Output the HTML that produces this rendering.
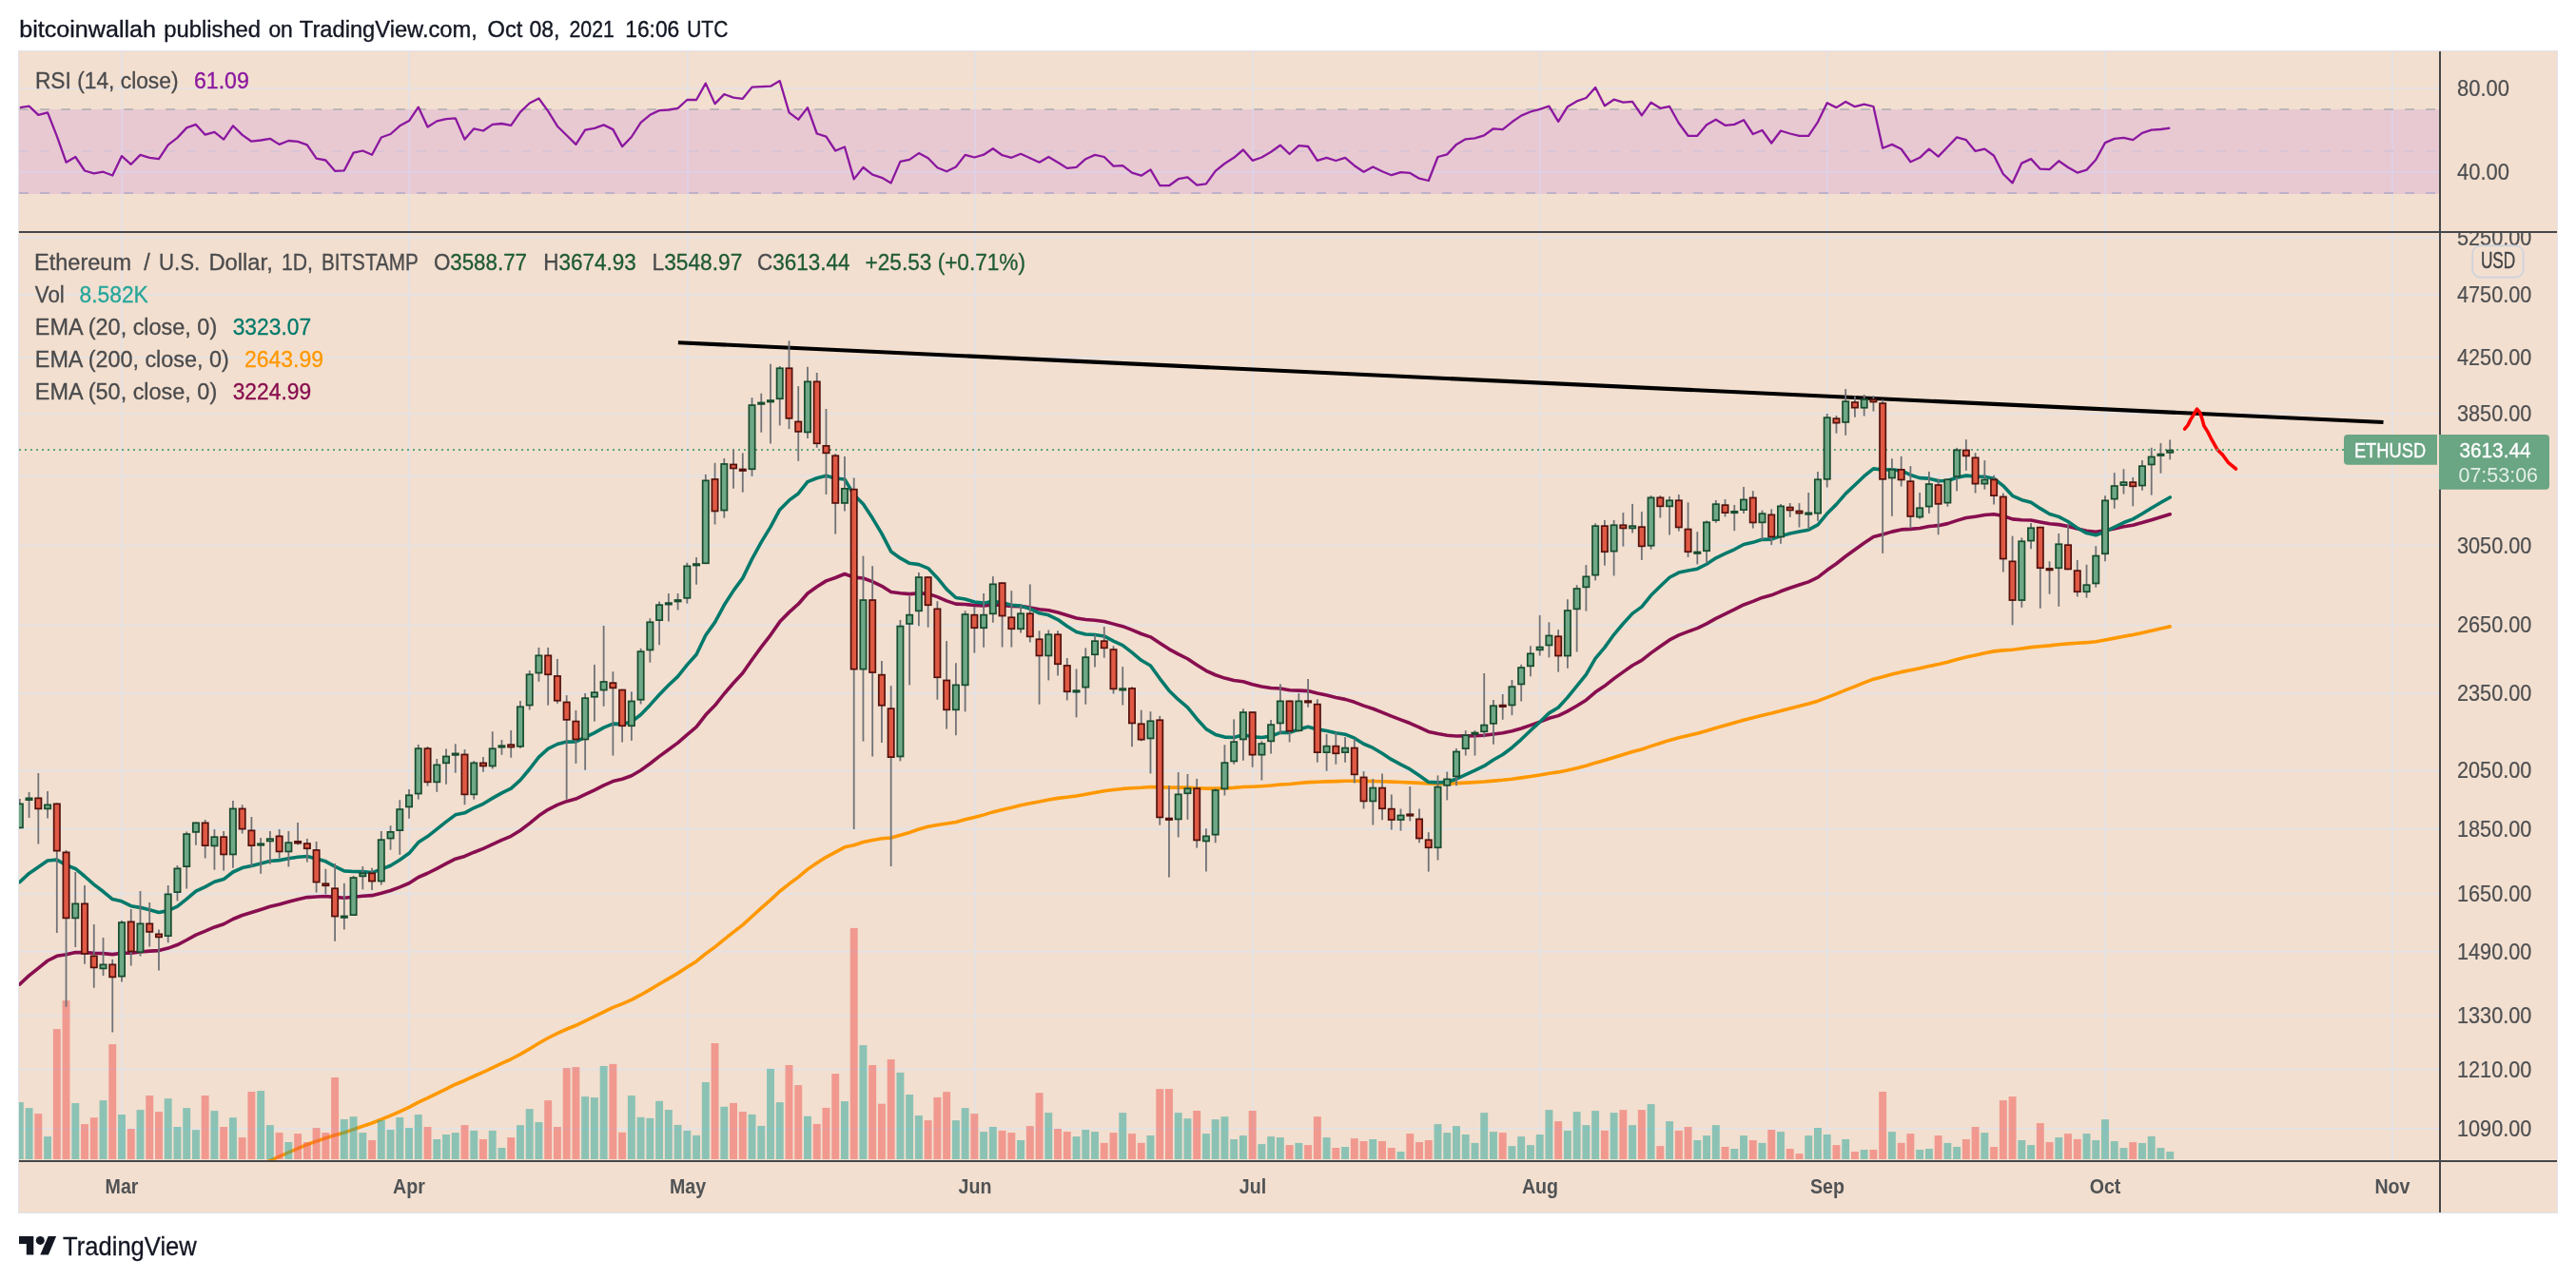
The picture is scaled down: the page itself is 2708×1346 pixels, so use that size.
<!DOCTYPE html>
<html><head><meta charset="utf-8"><title>ETHUSD chart</title>
<style>html,body{margin:0;padding:0;background:#fff;}body{width:2708px;height:1346px;overflow:hidden;font-family:"Liberation Sans",sans-serif;}svg{display:block;will-change:transform;}</style>
</head><body>
<svg width="2708" height="1346" viewBox="0 0 2708 1346" font-family="Liberation Sans, sans-serif">
<rect width="2708" height="1346" fill="#ffffff"/>
<text x="20.2" y="38.6" font-size="23.5" fill="#131722" stroke="#131722" stroke-width="0.35" textLength="143.8" lengthAdjust="spacingAndGlyphs">bitcoinwallah</text>
<text x="172.2" y="38.6" font-size="23.5" fill="#131722" stroke="#131722" stroke-width="0.35" textLength="101.9" lengthAdjust="spacingAndGlyphs">published</text>
<text x="282.4" y="38.6" font-size="23.5" fill="#131722" stroke="#131722" stroke-width="0.35" textLength="25.4" lengthAdjust="spacingAndGlyphs">on</text>
<text x="314.8" y="38.6" font-size="23.5" fill="#131722" stroke="#131722" stroke-width="0.35" textLength="187.1" lengthAdjust="spacingAndGlyphs">TradingView.com,</text>
<text x="512.6" y="38.6" font-size="23.5" fill="#131722" stroke="#131722" stroke-width="0.35" textLength="36.8" lengthAdjust="spacingAndGlyphs">Oct</text>
<text x="556.6" y="38.6" font-size="23.5" fill="#131722" stroke="#131722" stroke-width="0.35" textLength="31.9" lengthAdjust="spacingAndGlyphs">08,</text>
<text x="598.5" y="38.6" font-size="23.5" fill="#131722" stroke="#131722" stroke-width="0.35" textLength="47.3" lengthAdjust="spacingAndGlyphs">2021</text>
<text x="657.2" y="38.6" font-size="23.5" fill="#131722" stroke="#131722" stroke-width="0.35" textLength="57.1" lengthAdjust="spacingAndGlyphs">16:06</text>
<text x="722.2" y="38.6" font-size="23.5" fill="#131722" stroke="#131722" stroke-width="0.35" textLength="43.1" lengthAdjust="spacingAndGlyphs">UTC</text>
<rect x="19.5" y="53.5" width="2669.0" height="1222.0" fill="#f2dfcf" stroke="#e0e3eb" stroke-width="1"/>
<rect x="20" y="54" width="2668" height="1221" fill="#f2dfcf"/>
<defs>
<clipPath id="cp"><rect x="20" y="245" width="2544" height="975"/></clipPath>
<clipPath id="cr"><rect x="20" y="54" width="2544" height="189"/></clipPath>
<clipPath id="cband"><rect x="20" y="115" width="2544" height="89"/></clipPath>
</defs>
<g clip-path="url(#cr)">
<line x1="20" y1="93" x2="2564" y2="93" stroke="#e3e2e6" stroke-width="1.7"/>
<line x1="20" y1="181" x2="2564" y2="181" stroke="#e3e2e6" stroke-width="1.7"/>
<line x1="128" y1="54" x2="128" y2="244" stroke="#e3e2e6" stroke-width="1.7"/>
<line x1="430" y1="54" x2="430" y2="244" stroke="#e3e2e6" stroke-width="1.7"/>
<line x1="723" y1="54" x2="723" y2="244" stroke="#e3e2e6" stroke-width="1.7"/>
<line x1="1025" y1="54" x2="1025" y2="244" stroke="#e3e2e6" stroke-width="1.7"/>
<line x1="1317" y1="54" x2="1317" y2="244" stroke="#e3e2e6" stroke-width="1.7"/>
<line x1="1619" y1="54" x2="1619" y2="244" stroke="#e3e2e6" stroke-width="1.7"/>
<line x1="1921" y1="54" x2="1921" y2="244" stroke="#e3e2e6" stroke-width="1.7"/>
<line x1="2213" y1="54" x2="2213" y2="244" stroke="#e3e2e6" stroke-width="1.7"/>
<line x1="2515" y1="54" x2="2515" y2="244" stroke="#e3e2e6" stroke-width="1.7"/>
<rect x="20" y="115" width="2544" height="89" fill="#e8c9d2"/>
<g clip-path="url(#cband)">
<line x1="20" y1="93" x2="2564" y2="93" stroke="#ddd1e8" stroke-width="1.7"/>
<line x1="20" y1="181" x2="2564" y2="181" stroke="#ddd1e8" stroke-width="1.7"/>
<line x1="128" y1="54" x2="128" y2="244" stroke="#ddd1e8" stroke-width="1.7"/>
<line x1="430" y1="54" x2="430" y2="244" stroke="#ddd1e8" stroke-width="1.7"/>
<line x1="723" y1="54" x2="723" y2="244" stroke="#ddd1e8" stroke-width="1.7"/>
<line x1="1025" y1="54" x2="1025" y2="244" stroke="#ddd1e8" stroke-width="1.7"/>
<line x1="1317" y1="54" x2="1317" y2="244" stroke="#ddd1e8" stroke-width="1.7"/>
<line x1="1619" y1="54" x2="1619" y2="244" stroke="#ddd1e8" stroke-width="1.7"/>
<line x1="1921" y1="54" x2="1921" y2="244" stroke="#ddd1e8" stroke-width="1.7"/>
<line x1="2213" y1="54" x2="2213" y2="244" stroke="#ddd1e8" stroke-width="1.7"/>
<line x1="2515" y1="54" x2="2515" y2="244" stroke="#ddd1e8" stroke-width="1.7"/>
</g>
<line x1="20" y1="115" x2="2564" y2="115" stroke="#adadb1" stroke-width="1.7" stroke-dasharray="9.8 12.2" stroke-dashoffset="-0.2"/>
<line x1="20" y1="159" x2="2564" y2="159" stroke="#d3c2d6" stroke-width="1.7" stroke-dasharray="9.8 12.2" stroke-dashoffset="-0.2"/>
<line x1="20" y1="203" x2="2564" y2="203" stroke="#b1a8c8" stroke-width="1.7" stroke-dasharray="9.8 12.2" stroke-dashoffset="-0.2"/>
<polyline points="20.83,113.1 30.57,111.7 40.31,120.8 50.06,118.3 59.8,143.1 69.54,170.7 79.28,165 89.03,179.5 98.77,182.4 108.51,180.7 118.26,184.5 128,164.1 137.74,172.8 147.49,162.9 157.23,165.8 166.97,167.2 176.72,152.4 186.46,144.9 196.2,134.4 205.94,130.9 215.69,141.7 225.43,138.8 235.17,146.6 244.92,132.3 254.66,141.9 264.4,148.7 274.14,147.5 283.89,145.8 293.63,151.9 303.37,148 313.12,148.9 322.86,152.4 332.6,166.7 342.35,168.5 352.09,179.8 361.83,179.3 371.58,160.6 381.32,158.5 391.06,162.7 400.8,144.5 410.55,141 420.29,132.3 430.03,127.1 439.78,112.6 449.52,133.5 459.26,127.4 469,125.1 478.75,124.3 488.49,146.6 498.23,135.3 507.98,137.5 517.72,130.9 527.46,130 537.21,131.8 546.95,117.8 556.69,108.5 566.43,103.5 576.18,116.9 585.92,132.7 595.66,142.3 605.41,151.9 615.15,136.7 624.89,134.9 634.64,131.4 644.38,136.1 654.12,154.1 663.87,144 673.61,128.8 683.35,120.8 693.09,116.1 702.84,115.5 712.58,113.8 722.32,105 732.07,105 741.81,87.6 751.55,109.1 761.3,99.1 771.04,102.6 780.78,103.8 790.52,91.6 800.27,91.2 810.01,90.7 819.75,85.1 829.5,118.3 839.24,125.7 848.98,113.1 858.73,140.5 868.47,143.7 878.21,158.5 887.95,154.5 897.7,188.4 907.44,176 917.18,183.7 926.93,186.8 936.67,192.4 946.41,169.9 956.15,167.9 965.9,161.1 975.64,166.2 985.38,176.3 995.13,180.3 1004.87,175.5 1014.61,162.9 1024.36,165.5 1034.1,162.7 1043.84,156.2 1053.59,163.2 1063.33,165.8 1073.07,161.8 1082.81,166.2 1092.56,170.7 1102.3,165 1112.04,170.7 1121.79,176.9 1131.53,175.8 1141.27,167.2 1151.01,162.9 1160.76,165 1170.5,174.6 1180.24,174.2 1189.99,181.6 1199.73,184.7 1209.47,178.4 1219.22,195 1228.96,195.2 1238.7,188.2 1248.44,186.3 1258.19,194.7 1267.93,193.3 1277.67,179.8 1287.42,172 1297.16,165.8 1306.9,157.5 1316.65,168.8 1326.39,165.5 1336.13,159.7 1345.88,152.7 1355.62,162 1365.36,153.1 1375.1,154 1384.85,168.8 1394.59,165.8 1404.33,169 1414.08,165.8 1423.82,174.2 1433.56,180.7 1443.31,175.5 1453.05,180.3 1462.79,184.2 1472.53,181.2 1482.28,181.9 1492.02,187.7 1501.76,190 1511.51,165 1521.25,162.4 1530.99,151.9 1540.74,146.3 1550.48,145.4 1560.22,142.3 1569.96,135.3 1579.71,136.1 1589.45,128.3 1599.19,121.6 1608.94,117.5 1618.68,114.8 1628.42,111.7 1638.16,127.9 1647.91,112.2 1657.65,106.4 1667.39,103 1677.14,91.9 1686.88,111.2 1696.62,104.7 1706.37,107.7 1716.11,106.8 1725.85,121.3 1735.6,107.7 1745.34,113.8 1755.08,112 1764.82,129.5 1774.57,142.8 1784.31,142.8 1794.05,131.3 1803.8,125.7 1813.54,131.8 1823.28,130.9 1833.03,126.2 1842.77,141 1852.51,137 1862.25,150.5 1872,137.5 1881.74,140.5 1891.48,142.8 1901.23,142.8 1910.97,128.3 1920.71,108.2 1930.46,113.1 1940.2,107 1949.94,112.2 1959.68,109.6 1969.43,112 1979.17,155.7 1988.91,151.9 1998.66,156.8 2008.4,170.2 2018.14,165.8 2027.88,156.6 2037.63,164.6 2047.37,154.5 2057.11,144.4 2066.86,147.2 2076.6,158.9 2086.34,156.6 2096.09,163.7 2105.83,183 2115.57,192.4 2125.32,171.6 2135.06,167.1 2144.8,177.7 2154.54,178.1 2164.29,169.3 2174.03,176 2183.77,181.6 2193.52,178.6 2203.26,168 2213,150.1 2222.74,145.9 2232.49,144.8 2242.23,147.2 2251.97,139.9 2261.72,136.7 2271.46,136 2281.2,134.6" fill="none" stroke="#8b179f" stroke-width="2.3" stroke-linejoin="round"/>
</g>
<text x="36.9" y="92.6" font-size="23.5" fill="#4a4a4c" stroke="#4a4a4c" stroke-width="0.3" textLength="150.6" lengthAdjust="spacingAndGlyphs">RSI (14, close)</text>
<text x="203.9" y="92.6" font-size="23.5" fill="#8b179f" stroke="#8b179f" stroke-width="0.3" textLength="58" lengthAdjust="spacingAndGlyphs">61.09</text>
<g clip-path="url(#cp)">
<line x1="20" y1="250.19" x2="2564" y2="250.19" stroke="#e3e2e6" stroke-width="1.7"/>
<line x1="20" y1="309.82" x2="2564" y2="309.82" stroke="#e3e2e6" stroke-width="1.7"/>
<line x1="20" y1="376.09" x2="2564" y2="376.09" stroke="#e3e2e6" stroke-width="1.7"/>
<line x1="20" y1="434.98" x2="2564" y2="434.98" stroke="#e3e2e6" stroke-width="1.7"/>
<line x1="20" y1="500.34" x2="2564" y2="500.34" stroke="#e3e2e6" stroke-width="1.7"/>
<line x1="20" y1="573.76" x2="2564" y2="573.76" stroke="#e3e2e6" stroke-width="1.7"/>
<line x1="20" y1="657.52" x2="2564" y2="657.52" stroke="#e3e2e6" stroke-width="1.7"/>
<line x1="20" y1="729.1" x2="2564" y2="729.1" stroke="#e3e2e6" stroke-width="1.7"/>
<line x1="20" y1="810.47" x2="2564" y2="810.47" stroke="#e3e2e6" stroke-width="1.7"/>
<line x1="20" y1="871.63" x2="2564" y2="871.63" stroke="#e3e2e6" stroke-width="1.7"/>
<line x1="20" y1="939.8" x2="2564" y2="939.8" stroke="#e3e2e6" stroke-width="1.7"/>
<line x1="20" y1="1000.57" x2="2564" y2="1000.57" stroke="#e3e2e6" stroke-width="1.7"/>
<line x1="20" y1="1068.25" x2="2564" y2="1068.25" stroke="#e3e2e6" stroke-width="1.7"/>
<line x1="20" y1="1124.59" x2="2564" y2="1124.59" stroke="#e3e2e6" stroke-width="1.7"/>
<line x1="20" y1="1186.81" x2="2564" y2="1186.81" stroke="#e3e2e6" stroke-width="1.7"/>
<line x1="128" y1="244" x2="128" y2="1221" stroke="#e3e2e6" stroke-width="1.7"/>
<line x1="430" y1="244" x2="430" y2="1221" stroke="#e3e2e6" stroke-width="1.7"/>
<line x1="723" y1="244" x2="723" y2="1221" stroke="#e3e2e6" stroke-width="1.7"/>
<line x1="1025" y1="244" x2="1025" y2="1221" stroke="#e3e2e6" stroke-width="1.7"/>
<line x1="1317" y1="244" x2="1317" y2="1221" stroke="#e3e2e6" stroke-width="1.7"/>
<line x1="1619" y1="244" x2="1619" y2="1221" stroke="#e3e2e6" stroke-width="1.7"/>
<line x1="1921" y1="244" x2="1921" y2="1221" stroke="#e3e2e6" stroke-width="1.7"/>
<line x1="2213" y1="244" x2="2213" y2="1221" stroke="#e3e2e6" stroke-width="1.7"/>
<line x1="2515" y1="244" x2="2515" y2="1221" stroke="#e3e2e6" stroke-width="1.7"/>
<polyline points="20.83,1352.64 30.57,1344.67 40.31,1337.18 50.06,1329.73 59.8,1323.49 69.54,1318.72 79.28,1313.74 89.03,1309.78 98.77,1306.12 108.51,1302.45 118.26,1299.06 128,1294.77 137.74,1291.08 147.49,1286.95 157.23,1283.05 166.97,1279.31 176.72,1274.85 186.46,1269.99 196.2,1264.55 205.94,1258.99 215.69,1254 225.43,1248.92 235.17,1244.29 244.92,1238.83 254.66,1233.89 264.4,1229.36 274.14,1224.85 283.89,1220.32 293.63,1216.13 303.37,1211.82 313.12,1207.62 322.86,1203.56 332.6,1200.07 342.35,1196.69 352.09,1193.84 361.83,1191.01 371.58,1187.61 381.32,1184.19 391.06,1180.98 400.8,1177.1 410.55,1173.15 420.29,1168.87 430.03,1164.41 439.78,1159.15 449.52,1154.65 459.26,1149.87 469,1145.03 478.75,1140.21 488.49,1136.24 498.23,1131.75 507.98,1127.41 517.72,1122.8 527.46,1118.23 537.21,1113.78 546.95,1108.62 556.69,1102.93 566.43,1096.95 576.18,1091.51 585.92,1086.67 595.66,1082.26 605.41,1078.26 615.15,1073.57 624.89,1068.86 634.64,1064.03 644.38,1059.42 654.12,1055.56 663.87,1051.31 673.61,1046.22 683.35,1040.64 693.09,1034.82 702.84,1029.08 712.58,1023.38 722.32,1017.09 732.07,1010.9 741.81,1002.93 751.55,995.89 761.3,987.87 771.04,980.16 780.78,972.67 790.52,963.72 800.27,954.94 810.01,946.39 819.75,937.21 829.5,929.55 839.24,922.37 848.98,914.12 858.73,907.53 868.47,901.29 878.21,896.18 887.95,890.85 897.7,888.68 907.44,885.47 917.18,883.41 926.93,881.83 936.67,880.93 946.41,878.24 956.15,875.42 965.9,872.04 975.64,869.18 985.38,867.41 995.13,866.08 1004.87,864.43 1014.61,861.8 1024.36,859.43 1034.1,856.88 1043.84,853.9 1053.59,851.46 1063.33,849.25 1073.07,846.82 1082.81,844.78 1092.56,843.02 1102.3,840.98 1112.04,839.39 1121.79,838.17 1131.53,836.94 1141.27,835.29 1151.01,833.44 1160.76,831.73 1170.5,830.57 1180.24,829.42 1189.99,828.7 1199.73,828.18 1209.47,827.43 1219.22,827.75 1228.96,828.08 1238.7,828.15 1248.44,828.15 1258.19,828.68 1267.93,829.16 1277.67,829.17 1287.42,828.88 1297.16,828.37 1306.9,827.52 1316.65,827.18 1326.39,826.7 1336.13,826.01 1345.88,825.05 1355.62,824.48 1365.36,823.53 1375.1,822.63 1384.85,822.32 1394.59,821.92 1404.33,821.63 1414.08,821.26 1423.82,821.2 1433.56,821.42 1443.31,821.48 1453.05,821.77 1462.79,822.16 1472.53,822.49 1482.28,822.84 1492.02,823.41 1501.76,824.05 1511.51,824.08 1521.25,824.02 1530.99,823.67 1540.74,823.14 1550.48,822.59 1560.22,821.95 1569.96,821.09 1579.71,820.26 1589.45,819.19 1599.19,817.89 1608.94,816.43 1618.68,814.91 1628.42,813.25 1638.16,811.89 1647.91,809.93 1657.65,807.68 1667.39,805.29 1677.14,802.16 1686.88,799.5 1696.62,796.45 1706.37,793.51 1716.11,790.56 1725.85,787.99 1735.6,784.67 1745.34,781.56 1755.08,778.39 1764.82,775.7 1774.57,773.42 1784.31,771.15 1794.05,768.47 1803.8,765.55 1813.54,762.83 1823.28,760.1 1833.03,757.24 1842.77,754.78 1852.51,752.2 1862.25,750.02 1872,747.4 1881.74,744.9 1891.48,742.48 1901.23,740.07 1910.97,737.19 1920.71,733.34 1930.46,729.67 1940.2,725.66 1949.94,721.86 1959.68,717.95 1969.43,714.17 1979.17,711.68 1988.91,709.05 1998.66,706.64 2008.4,704.78 2018.14,702.81 2027.88,700.52 2037.63,698.57 2047.37,696.28 2057.11,693.58 2066.86,691.03 2076.6,688.92 2086.34,686.76 2096.09,684.88 2105.83,683.84 2115.57,683.3 2125.32,682.04 2135.06,680.62 2144.8,679.74 2154.54,678.89 2164.29,677.72 2174.03,676.88 2183.77,676.32 2193.52,675.67 2203.26,674.68 2213,673 2222.74,671.14 2232.49,669.25 2242.23,667.47 2251.97,665.41 2261.72,663.24 2271.46,661.07 2281.2,658.87" fill="none" stroke="#ff9800" stroke-width="3.6" stroke-linejoin="round" stroke-linecap="round"/>
<polyline points="20.83,1035 30.57,1025.94 40.31,1018.03 50.06,1010.24 59.8,1005.29 69.54,1003.71 79.28,1001.49 89.03,1001.58 98.77,1002.23 108.51,1002.66 118.26,1003.65 128,1002.26 137.74,1002.22 147.49,1000.94 157.23,1000.14 166.97,999.59 176.72,997.11 186.46,993.56 196.2,988.5 205.94,983.12 215.69,979.18 225.43,974.93 235.17,971.77 244.92,966.48 254.66,962.5 264.4,959.48 274.14,956.45 283.89,953.32 293.63,950.98 303.37,948.26 313.12,945.76 322.86,943.6 332.6,943 342.35,942.57 352.09,943.41 361.83,944.17 371.58,943.29 381.32,942.26 391.06,941.67 400.8,939.22 410.55,936.53 420.29,932.89 430.03,928.75 439.78,922.48 449.52,918.26 459.26,913.31 469,908.18 478.75,903.17 488.49,900.4 498.23,896.2 507.98,892.4 517.72,887.87 527.46,883.41 537.21,879.3 546.95,873.29 556.69,865.89 566.43,857.84 576.18,851.3 585.92,846.41 595.66,842.67 605.41,840.01 615.15,835.44 624.89,830.81 634.64,825.87 644.38,821.54 654.12,819.18 663.87,815.72 673.61,809.98 683.35,803 693.09,795.45 702.84,788.22 712.58,781.16 722.32,772.63 732.07,764.47 741.81,751.82 751.55,741.83 761.3,729.5 771.04,718.24 780.78,707.72 790.52,693.71 800.27,680.44 810.01,667.79 819.75,653.85 829.5,643.88 839.24,635.21 848.98,624.04 858.73,617.04 868.47,610.89 878.21,607.49 887.95,603.49 897.7,607.14 907.44,608.03 917.18,611.65 926.93,616.28 936.67,622.42 946.41,623.77 956.15,624.61 965.9,623.88 975.64,624.39 985.38,627.64 995.13,631.9 1004.87,635.1 1014.61,635.5 1024.36,636.48 1034.1,636.84 1043.84,635.91 1053.59,636.39 1063.33,637.38 1073.07,637.65 1082.81,638.9 1092.56,640.83 1102.3,641.81 1112.04,643.96 1121.79,647.05 1131.53,649.94 1141.27,651.47 1151.01,652.32 1160.76,653.46 1170.5,656.12 1180.24,658.65 1189.99,662.36 1199.73,666.51 1209.47,669.83 1219.22,676.25 1228.96,682.55 1238.7,687.84 1248.44,692.76 1258.19,699.22 1267.93,705.32 1277.67,709.76 1287.42,713.1 1297.16,715.56 1306.9,716.8 1316.65,719.67 1326.39,721.97 1336.13,723.46 1345.88,723.97 1355.62,725.69 1365.36,726.11 1375.1,726.62 1384.85,729.05 1394.59,731.1 1404.33,733.42 1414.08,735.38 1423.82,738.32 1433.56,742.11 1443.31,745.24 1453.05,749.06 1462.79,753.14 1472.53,756.87 1482.28,760.54 1492.02,764.88 1501.76,769.39 1511.51,771.54 1521.25,773.31 1530.99,773.94 1540.74,773.88 1550.48,773.73 1560.22,773.26 1569.96,771.97 1579.71,770.81 1589.45,768.79 1599.19,765.99 1608.94,762.67 1618.68,759.19 1628.42,755.32 1638.16,752.63 1647.91,747.85 1657.65,742.19 1667.39,736.2 1677.14,727.81 1686.88,721.32 1696.62,713.66 1706.37,706.64 1716.11,699.77 1725.85,694.36 1735.6,686.6 1745.34,679.78 1755.08,672.91 1764.82,667.83 1774.57,664.18 1784.31,660.67 1794.05,655.84 1803.8,650.34 1813.54,645.6 1823.28,640.95 1833.03,635.94 1842.77,632.34 1852.51,628.4 1862.25,625.8 1872,621.8 1881.74,618.25 1891.48,615 1901.23,611.85 1910.97,607.2 1920.71,599.59 1930.46,592.74 1940.2,585 1949.94,578.07 1959.68,570.97 1969.43,564.44 1979.17,561.98 1988.91,559.12 1998.66,556.92 2008.4,556.4 2018.14,555.48 2027.88,553.55 2037.63,552.64 2047.37,550.63 2057.11,547.36 2066.86,544.58 2076.6,543.17 2086.34,541.56 2096.09,540.78 2105.83,542.58 2115.57,545.84 2125.32,546.71 2135.06,547.01 2144.8,548.94 2154.54,550.83 2164.29,551.63 2174.03,553.42 2183.77,556.01 2193.52,558.19 2203.26,559.17 2213,557.81 2222.74,555.87 2232.49,553.85 2242.23,552.16 2251.97,549.57 2261.72,546.66 2271.46,543.77 2281.2,540.82" fill="none" stroke="#880e4f" stroke-width="3.6" stroke-linejoin="round" stroke-linecap="round"/>
<polyline points="20.83,927.5 30.57,918.43 40.31,911.69 50.06,905.06 59.8,904.15 69.54,909.79 79.28,913.46 89.03,921.49 98.77,930.06 108.51,937.52 118.26,945.59 128,947.8 137.74,952.69 147.49,954.37 157.23,956.83 166.97,959.57 176.72,957.63 186.46,953.18 196.2,945.41 205.94,937.21 215.69,932.55 225.43,927.27 235.17,924.55 244.92,916.99 254.66,912.61 264.4,910.42 274.14,908.11 283.89,905.5 293.63,904.62 303.37,902.75 313.12,901.28 322.86,900.5 332.6,903.1 342.35,905.8 352.09,911.14 361.83,915.89 371.58,916.49 381.32,916.58 391.06,917.61 400.8,914.15 410.55,910.21 420.29,904.23 430.03,897.32 439.78,885.81 449.52,879.55 459.26,871.88 469,864.07 478.75,856.82 488.49,854.82 498.23,849.53 507.98,845.28 517.72,839.41 527.46,833.86 537.21,829.17 546.95,820.34 556.69,808.73 566.43,796.17 576.18,787.42 585.92,782.49 595.66,780.08 605.41,779.91 615.15,775.31 624.89,770.57 634.64,765.16 644.38,761.14 654.12,761.42 663.87,759.01 673.61,751.48 683.35,741.41 693.09,730.45 702.84,720.55 712.58,711.33 722.32,699.16 732.07,688.21 741.81,668.06 751.55,654.41 761.3,636.29 771.04,621.1 780.78,607.89 790.52,587.87 800.27,570.07 810.01,554.09 819.75,535.92 829.5,526.17 839.24,518.98 848.98,506.63 858.73,502.75 868.47,500.27 878.21,503.02 887.95,503.96 897.7,520.4 907.44,530.03 917.18,544.86 926.93,561.1 936.67,579.95 946.41,586.93 956.15,592.3 965.9,593.61 975.64,597.61 985.38,607.7 995.13,619.66 1004.87,628.48 1014.61,630.05 1024.36,632.94 1034.1,634.15 1043.84,632.16 1053.59,633.68 1063.33,636.33 1073.07,637.1 1082.81,640.17 1092.56,644.77 1102.3,646.79 1112.04,651.58 1121.79,658.46 1131.53,664.55 1141.27,666.95 1151.01,667.55 1160.76,668.93 1170.5,674.07 1180.24,678.67 1189.99,686.07 1199.73,694.28 1209.47,700.01 1219.22,713.55 1228.96,726.22 1238.7,735.72 1248.44,743.95 1258.19,755.98 1267.93,766.62 1277.67,772.39 1287.42,775.08 1297.16,775.48 1306.9,772.83 1316.65,774.86 1326.39,775.46 1336.13,774.1 1345.88,770.41 1355.62,770.33 1365.36,767.02 1375.1,764.31 1384.85,766.9 1394.59,768.49 1404.33,770.79 1414.08,772.19 1423.82,776.16 1433.56,782.23 1443.31,786.42 1453.05,792.28 1462.79,798.66 1472.53,803.94 1482.28,808.92 1492.02,815.54 1501.76,822.42 1511.51,822.83 1521.25,822.41 1530.99,819.21 1540.74,814.59 1550.48,810.21 1560.22,805.41 1569.96,799.01 1579.71,793.45 1589.45,786.19 1599.19,777.56 1608.94,768.26 1618.68,759.23 1628.42,749.87 1638.16,743.95 1647.91,733.36 1657.65,721.38 1667.39,709.32 1677.14,692.45 1686.88,680.91 1696.62,667.29 1706.37,655.78 1716.11,645.11 1725.85,638.09 1735.6,626.06 1745.34,616.57 1755.08,607.26 1764.82,602.11 1774.57,600.08 1784.31,598.18 1794.05,593.26 1803.8,586.86 1813.54,582.24 1823.28,577.79 1833.03,572.51 1842.77,570.36 1852.51,567.33 1862.25,567.14 1872,563.65 1881.74,561.09 1891.48,559.1 1901.23,557.19 1910.97,551.85 1920.71,540.05 1930.46,530.37 1940.2,519.08 1949.94,509.95 1959.68,500.68 1969.43,492.87 1979.17,493.99 1988.91,493.9 1998.66,494.97 2008.4,499.45 2018.14,502.61 2027.88,503.14 2037.63,505.71 2047.37,505.49 2057.11,502.27 2066.86,500.13 2076.6,501.01 2086.34,501.26 2096.09,503.2 2105.83,510.81 2115.57,521.34 2125.32,525.67 2135.06,528.34 2144.8,534.65 2154.54,540.51 2164.29,543.38 2174.03,548.49 2183.77,555.21 2193.52,560.59 2203.26,562.75 2213,559.1 2222.74,554.27 2232.49,549.53 2242.23,545.87 2251.97,540.25 2261.72,534.2 2271.46,528.51 2281.2,522.97" fill="none" stroke="#00796b" stroke-width="3.6" stroke-linejoin="round" stroke-linecap="round"/>
<rect x="16.88" y="1159" width="7.9" height="60" fill="rgba(38,166,154,0.5)"/>
<rect x="26.62" y="1165.1" width="7.9" height="53.9" fill="rgba(38,166,154,0.5)"/>
<rect x="36.36" y="1171.1" width="7.9" height="47.9" fill="rgba(239,83,80,0.5)"/>
<rect x="46.11" y="1195.1" width="7.9" height="23.9" fill="rgba(38,166,154,0.5)"/>
<rect x="55.85" y="1082.1" width="7.9" height="136.9" fill="rgba(239,83,80,0.5)"/>
<rect x="65.59" y="1052.1" width="7.9" height="166.9" fill="rgba(239,83,80,0.5)"/>
<rect x="75.33" y="1160" width="7.9" height="59" fill="rgba(38,166,154,0.5)"/>
<rect x="85.08" y="1182.1" width="7.9" height="36.9" fill="rgba(239,83,80,0.5)"/>
<rect x="94.82" y="1175.2" width="7.9" height="43.8" fill="rgba(239,83,80,0.5)"/>
<rect x="104.56" y="1157.1" width="7.9" height="61.9" fill="rgba(38,166,154,0.5)"/>
<rect x="114.31" y="1098.1" width="7.9" height="120.9" fill="rgba(239,83,80,0.5)"/>
<rect x="124.05" y="1172" width="7.9" height="47" fill="rgba(38,166,154,0.5)"/>
<rect x="133.79" y="1187" width="7.9" height="32" fill="rgba(239,83,80,0.5)"/>
<rect x="143.54" y="1167.1" width="7.9" height="51.9" fill="rgba(38,166,154,0.5)"/>
<rect x="153.28" y="1152" width="7.9" height="67" fill="rgba(239,83,80,0.5)"/>
<rect x="163.02" y="1169" width="7.9" height="50" fill="rgba(239,83,80,0.5)"/>
<rect x="172.77" y="1155.2" width="7.9" height="63.8" fill="rgba(38,166,154,0.5)"/>
<rect x="182.51" y="1185" width="7.9" height="34" fill="rgba(38,166,154,0.5)"/>
<rect x="192.25" y="1165.1" width="7.9" height="53.9" fill="rgba(38,166,154,0.5)"/>
<rect x="201.99" y="1188.2" width="7.9" height="30.8" fill="rgba(38,166,154,0.5)"/>
<rect x="211.74" y="1152" width="7.9" height="67" fill="rgba(239,83,80,0.5)"/>
<rect x="221.48" y="1168.1" width="7.9" height="50.9" fill="rgba(38,166,154,0.5)"/>
<rect x="231.22" y="1185" width="7.9" height="34" fill="rgba(239,83,80,0.5)"/>
<rect x="240.97" y="1175.2" width="7.9" height="43.8" fill="rgba(38,166,154,0.5)"/>
<rect x="250.71" y="1196.1" width="7.9" height="22.9" fill="rgba(239,83,80,0.5)"/>
<rect x="260.45" y="1148" width="7.9" height="71" fill="rgba(239,83,80,0.5)"/>
<rect x="270.19" y="1147.1" width="7.9" height="71.9" fill="rgba(38,166,154,0.5)"/>
<rect x="279.94" y="1183.1" width="7.9" height="35.9" fill="rgba(38,166,154,0.5)"/>
<rect x="289.68" y="1191.1" width="7.9" height="27.9" fill="rgba(239,83,80,0.5)"/>
<rect x="299.42" y="1201" width="7.9" height="18" fill="rgba(38,166,154,0.5)"/>
<rect x="309.17" y="1192.1" width="7.9" height="26.9" fill="rgba(239,83,80,0.5)"/>
<rect x="318.91" y="1201" width="7.9" height="18" fill="rgba(239,83,80,0.5)"/>
<rect x="328.65" y="1186" width="7.9" height="33" fill="rgba(239,83,80,0.5)"/>
<rect x="338.4" y="1191.1" width="7.9" height="27.9" fill="rgba(239,83,80,0.5)"/>
<rect x="348.14" y="1133" width="7.9" height="86" fill="rgba(239,83,80,0.5)"/>
<rect x="357.88" y="1177" width="7.9" height="42" fill="rgba(38,166,154,0.5)"/>
<rect x="367.63" y="1174.2" width="7.9" height="44.8" fill="rgba(38,166,154,0.5)"/>
<rect x="377.37" y="1191.1" width="7.9" height="27.9" fill="rgba(38,166,154,0.5)"/>
<rect x="387.11" y="1199" width="7.9" height="20" fill="rgba(239,83,80,0.5)"/>
<rect x="396.85" y="1178.1" width="7.9" height="40.9" fill="rgba(38,166,154,0.5)"/>
<rect x="406.6" y="1188" width="7.9" height="31" fill="rgba(38,166,154,0.5)"/>
<rect x="416.34" y="1175" width="7.9" height="44" fill="rgba(38,166,154,0.5)"/>
<rect x="426.08" y="1186" width="7.9" height="33" fill="rgba(38,166,154,0.5)"/>
<rect x="435.83" y="1172" width="7.9" height="47" fill="rgba(38,166,154,0.5)"/>
<rect x="445.57" y="1185" width="7.9" height="34" fill="rgba(239,83,80,0.5)"/>
<rect x="455.31" y="1198" width="7.9" height="21" fill="rgba(38,166,154,0.5)"/>
<rect x="465.06" y="1193" width="7.9" height="26" fill="rgba(38,166,154,0.5)"/>
<rect x="474.8" y="1191.1" width="7.9" height="27.9" fill="rgba(38,166,154,0.5)"/>
<rect x="484.54" y="1183.1" width="7.9" height="35.9" fill="rgba(239,83,80,0.5)"/>
<rect x="494.28" y="1188.9" width="7.9" height="30.1" fill="rgba(38,166,154,0.5)"/>
<rect x="504.03" y="1198" width="7.9" height="21" fill="rgba(239,83,80,0.5)"/>
<rect x="513.77" y="1188.9" width="7.9" height="30.1" fill="rgba(38,166,154,0.5)"/>
<rect x="523.51" y="1207" width="7.9" height="12" fill="rgba(38,166,154,0.5)"/>
<rect x="533.26" y="1196.1" width="7.9" height="22.9" fill="rgba(239,83,80,0.5)"/>
<rect x="543" y="1183.1" width="7.9" height="35.9" fill="rgba(38,166,154,0.5)"/>
<rect x="552.74" y="1166.1" width="7.9" height="52.9" fill="rgba(38,166,154,0.5)"/>
<rect x="562.48" y="1180" width="7.9" height="39" fill="rgba(38,166,154,0.5)"/>
<rect x="572.23" y="1157.1" width="7.9" height="61.9" fill="rgba(239,83,80,0.5)"/>
<rect x="581.97" y="1185" width="7.9" height="34" fill="rgba(239,83,80,0.5)"/>
<rect x="591.71" y="1123.1" width="7.9" height="95.9" fill="rgba(239,83,80,0.5)"/>
<rect x="601.46" y="1122.1" width="7.9" height="96.9" fill="rgba(239,83,80,0.5)"/>
<rect x="611.2" y="1153.1" width="7.9" height="65.9" fill="rgba(38,166,154,0.5)"/>
<rect x="620.94" y="1154.1" width="7.9" height="64.9" fill="rgba(38,166,154,0.5)"/>
<rect x="630.69" y="1121" width="7.9" height="98" fill="rgba(38,166,154,0.5)"/>
<rect x="640.43" y="1118.9" width="7.9" height="100.1" fill="rgba(239,83,80,0.5)"/>
<rect x="650.17" y="1190.8" width="7.9" height="28.2" fill="rgba(239,83,80,0.5)"/>
<rect x="659.91" y="1152" width="7.9" height="67" fill="rgba(38,166,154,0.5)"/>
<rect x="669.66" y="1174.8" width="7.9" height="44.2" fill="rgba(38,166,154,0.5)"/>
<rect x="679.4" y="1175.9" width="7.9" height="43.1" fill="rgba(38,166,154,0.5)"/>
<rect x="689.14" y="1157.8" width="7.9" height="61.2" fill="rgba(38,166,154,0.5)"/>
<rect x="698.89" y="1167" width="7.9" height="52" fill="rgba(38,166,154,0.5)"/>
<rect x="708.63" y="1182.9" width="7.9" height="36.1" fill="rgba(38,166,154,0.5)"/>
<rect x="718.37" y="1188.9" width="7.9" height="30.1" fill="rgba(38,166,154,0.5)"/>
<rect x="728.12" y="1193.9" width="7.9" height="25.1" fill="rgba(38,166,154,0.5)"/>
<rect x="737.86" y="1138" width="7.9" height="81" fill="rgba(38,166,154,0.5)"/>
<rect x="747.6" y="1097" width="7.9" height="122" fill="rgba(239,83,80,0.5)"/>
<rect x="757.35" y="1163.8" width="7.9" height="55.2" fill="rgba(38,166,154,0.5)"/>
<rect x="767.09" y="1159.9" width="7.9" height="59.1" fill="rgba(239,83,80,0.5)"/>
<rect x="776.83" y="1169" width="7.9" height="50" fill="rgba(239,83,80,0.5)"/>
<rect x="786.57" y="1171.9" width="7.9" height="47.1" fill="rgba(38,166,154,0.5)"/>
<rect x="796.32" y="1183.9" width="7.9" height="35.1" fill="rgba(38,166,154,0.5)"/>
<rect x="806.06" y="1123.9" width="7.9" height="95.1" fill="rgba(38,166,154,0.5)"/>
<rect x="815.8" y="1159.1" width="7.9" height="59.9" fill="rgba(38,166,154,0.5)"/>
<rect x="825.55" y="1120" width="7.9" height="99" fill="rgba(239,83,80,0.5)"/>
<rect x="835.29" y="1141.1" width="7.9" height="77.9" fill="rgba(239,83,80,0.5)"/>
<rect x="845.03" y="1173.8" width="7.9" height="45.2" fill="rgba(38,166,154,0.5)"/>
<rect x="854.77" y="1181.9" width="7.9" height="37.1" fill="rgba(239,83,80,0.5)"/>
<rect x="864.52" y="1164.9" width="7.9" height="54.1" fill="rgba(239,83,80,0.5)"/>
<rect x="874.26" y="1129.1" width="7.9" height="89.9" fill="rgba(239,83,80,0.5)"/>
<rect x="884" y="1158.1" width="7.9" height="60.9" fill="rgba(38,166,154,0.5)"/>
<rect x="893.75" y="975.9" width="7.9" height="243.1" fill="rgba(239,83,80,0.5)"/>
<rect x="903.49" y="1099.1" width="7.9" height="119.9" fill="rgba(38,166,154,0.5)"/>
<rect x="913.23" y="1120" width="7.9" height="99" fill="rgba(239,83,80,0.5)"/>
<rect x="922.98" y="1160.7" width="7.9" height="58.3" fill="rgba(239,83,80,0.5)"/>
<rect x="932.72" y="1114" width="7.9" height="105" fill="rgba(239,83,80,0.5)"/>
<rect x="942.46" y="1127.9" width="7.9" height="91.1" fill="rgba(38,166,154,0.5)"/>
<rect x="952.2" y="1151" width="7.9" height="68" fill="rgba(38,166,154,0.5)"/>
<rect x="961.95" y="1173" width="7.9" height="46" fill="rgba(38,166,154,0.5)"/>
<rect x="971.69" y="1178.1" width="7.9" height="40.9" fill="rgba(239,83,80,0.5)"/>
<rect x="981.43" y="1153.9" width="7.9" height="65.1" fill="rgba(239,83,80,0.5)"/>
<rect x="991.18" y="1148.1" width="7.9" height="70.9" fill="rgba(239,83,80,0.5)"/>
<rect x="1000.92" y="1178.1" width="7.9" height="40.9" fill="rgba(38,166,154,0.5)"/>
<rect x="1010.66" y="1165.1" width="7.9" height="53.9" fill="rgba(38,166,154,0.5)"/>
<rect x="1020.41" y="1171.1" width="7.9" height="47.9" fill="rgba(239,83,80,0.5)"/>
<rect x="1030.15" y="1190.1" width="7.9" height="28.9" fill="rgba(38,166,154,0.5)"/>
<rect x="1039.89" y="1185" width="7.9" height="34" fill="rgba(38,166,154,0.5)"/>
<rect x="1049.63" y="1188.9" width="7.9" height="30.1" fill="rgba(239,83,80,0.5)"/>
<rect x="1059.38" y="1191.1" width="7.9" height="27.9" fill="rgba(239,83,80,0.5)"/>
<rect x="1069.12" y="1199" width="7.9" height="20" fill="rgba(38,166,154,0.5)"/>
<rect x="1078.86" y="1184.1" width="7.9" height="34.9" fill="rgba(239,83,80,0.5)"/>
<rect x="1088.61" y="1149.2" width="7.9" height="69.8" fill="rgba(239,83,80,0.5)"/>
<rect x="1098.35" y="1170.1" width="7.9" height="48.9" fill="rgba(38,166,154,0.5)"/>
<rect x="1108.09" y="1187" width="7.9" height="32" fill="rgba(239,83,80,0.5)"/>
<rect x="1117.84" y="1190.1" width="7.9" height="28.9" fill="rgba(239,83,80,0.5)"/>
<rect x="1127.58" y="1195.1" width="7.9" height="23.9" fill="rgba(38,166,154,0.5)"/>
<rect x="1137.32" y="1188" width="7.9" height="31" fill="rgba(38,166,154,0.5)"/>
<rect x="1147.06" y="1190.1" width="7.9" height="28.9" fill="rgba(38,166,154,0.5)"/>
<rect x="1156.81" y="1201.9" width="7.9" height="17.1" fill="rgba(239,83,80,0.5)"/>
<rect x="1166.55" y="1191.1" width="7.9" height="27.9" fill="rgba(239,83,80,0.5)"/>
<rect x="1176.29" y="1170.1" width="7.9" height="48.9" fill="rgba(38,166,154,0.5)"/>
<rect x="1186.04" y="1192.1" width="7.9" height="26.9" fill="rgba(239,83,80,0.5)"/>
<rect x="1195.78" y="1201.9" width="7.9" height="17.1" fill="rgba(239,83,80,0.5)"/>
<rect x="1205.52" y="1194" width="7.9" height="25" fill="rgba(38,166,154,0.5)"/>
<rect x="1215.27" y="1145.1" width="7.9" height="73.9" fill="rgba(239,83,80,0.5)"/>
<rect x="1225.01" y="1145.1" width="7.9" height="73.9" fill="rgba(239,83,80,0.5)"/>
<rect x="1234.75" y="1170.1" width="7.9" height="48.9" fill="rgba(38,166,154,0.5)"/>
<rect x="1244.49" y="1176.2" width="7.9" height="42.8" fill="rgba(38,166,154,0.5)"/>
<rect x="1254.24" y="1168" width="7.9" height="51" fill="rgba(239,83,80,0.5)"/>
<rect x="1263.98" y="1192.1" width="7.9" height="26.9" fill="rgba(38,166,154,0.5)"/>
<rect x="1273.72" y="1177.1" width="7.9" height="41.9" fill="rgba(38,166,154,0.5)"/>
<rect x="1283.47" y="1174.2" width="7.9" height="44.8" fill="rgba(38,166,154,0.5)"/>
<rect x="1293.21" y="1198" width="7.9" height="21" fill="rgba(38,166,154,0.5)"/>
<rect x="1302.95" y="1194.1" width="7.9" height="24.9" fill="rgba(38,166,154,0.5)"/>
<rect x="1312.7" y="1168" width="7.9" height="51" fill="rgba(239,83,80,0.5)"/>
<rect x="1322.44" y="1203.1" width="7.9" height="15.9" fill="rgba(38,166,154,0.5)"/>
<rect x="1332.18" y="1195.1" width="7.9" height="23.9" fill="rgba(38,166,154,0.5)"/>
<rect x="1341.92" y="1196.1" width="7.9" height="22.9" fill="rgba(38,166,154,0.5)"/>
<rect x="1351.67" y="1204.1" width="7.9" height="14.9" fill="rgba(239,83,80,0.5)"/>
<rect x="1361.41" y="1201.9" width="7.9" height="17.1" fill="rgba(38,166,154,0.5)"/>
<rect x="1371.15" y="1204.1" width="7.9" height="14.9" fill="rgba(239,83,80,0.5)"/>
<rect x="1380.9" y="1174.2" width="7.9" height="44.8" fill="rgba(239,83,80,0.5)"/>
<rect x="1390.64" y="1196.1" width="7.9" height="22.9" fill="rgba(38,166,154,0.5)"/>
<rect x="1400.38" y="1207" width="7.9" height="12" fill="rgba(239,83,80,0.5)"/>
<rect x="1410.13" y="1206" width="7.9" height="13" fill="rgba(38,166,154,0.5)"/>
<rect x="1419.87" y="1197.1" width="7.9" height="21.9" fill="rgba(239,83,80,0.5)"/>
<rect x="1429.61" y="1200" width="7.9" height="19" fill="rgba(239,83,80,0.5)"/>
<rect x="1439.36" y="1198" width="7.9" height="21" fill="rgba(38,166,154,0.5)"/>
<rect x="1449.1" y="1200" width="7.9" height="19" fill="rgba(239,83,80,0.5)"/>
<rect x="1458.84" y="1207" width="7.9" height="12" fill="rgba(239,83,80,0.5)"/>
<rect x="1468.58" y="1211" width="7.9" height="8" fill="rgba(38,166,154,0.5)"/>
<rect x="1478.33" y="1192.1" width="7.9" height="26.9" fill="rgba(239,83,80,0.5)"/>
<rect x="1488.07" y="1201" width="7.9" height="18" fill="rgba(239,83,80,0.5)"/>
<rect x="1497.81" y="1199" width="7.9" height="20" fill="rgba(239,83,80,0.5)"/>
<rect x="1507.56" y="1182.1" width="7.9" height="36.9" fill="rgba(38,166,154,0.5)"/>
<rect x="1517.3" y="1191.1" width="7.9" height="27.9" fill="rgba(38,166,154,0.5)"/>
<rect x="1527.04" y="1184.1" width="7.9" height="34.9" fill="rgba(38,166,154,0.5)"/>
<rect x="1536.79" y="1193" width="7.9" height="26" fill="rgba(38,166,154,0.5)"/>
<rect x="1546.53" y="1201.9" width="7.9" height="17.1" fill="rgba(38,166,154,0.5)"/>
<rect x="1556.27" y="1170.1" width="7.9" height="48.9" fill="rgba(38,166,154,0.5)"/>
<rect x="1566.01" y="1190.1" width="7.9" height="28.9" fill="rgba(38,166,154,0.5)"/>
<rect x="1575.76" y="1191.1" width="7.9" height="27.9" fill="rgba(239,83,80,0.5)"/>
<rect x="1585.5" y="1205.1" width="7.9" height="13.9" fill="rgba(38,166,154,0.5)"/>
<rect x="1595.24" y="1195.1" width="7.9" height="23.9" fill="rgba(38,166,154,0.5)"/>
<rect x="1604.99" y="1204.1" width="7.9" height="14.9" fill="rgba(38,166,154,0.5)"/>
<rect x="1614.73" y="1193" width="7.9" height="26" fill="rgba(38,166,154,0.5)"/>
<rect x="1624.47" y="1167.1" width="7.9" height="51.9" fill="rgba(38,166,154,0.5)"/>
<rect x="1634.21" y="1179.1" width="7.9" height="39.9" fill="rgba(239,83,80,0.5)"/>
<rect x="1643.96" y="1188.9" width="7.9" height="30.1" fill="rgba(38,166,154,0.5)"/>
<rect x="1653.7" y="1169.1" width="7.9" height="49.9" fill="rgba(38,166,154,0.5)"/>
<rect x="1663.44" y="1183.1" width="7.9" height="35.9" fill="rgba(38,166,154,0.5)"/>
<rect x="1673.19" y="1168.1" width="7.9" height="50.9" fill="rgba(38,166,154,0.5)"/>
<rect x="1682.93" y="1188.9" width="7.9" height="30.1" fill="rgba(239,83,80,0.5)"/>
<rect x="1692.67" y="1170.1" width="7.9" height="48.9" fill="rgba(38,166,154,0.5)"/>
<rect x="1702.42" y="1167.1" width="7.9" height="51.9" fill="rgba(239,83,80,0.5)"/>
<rect x="1712.16" y="1183.1" width="7.9" height="35.9" fill="rgba(38,166,154,0.5)"/>
<rect x="1721.9" y="1167.1" width="7.9" height="51.9" fill="rgba(239,83,80,0.5)"/>
<rect x="1731.64" y="1161.1" width="7.9" height="57.9" fill="rgba(38,166,154,0.5)"/>
<rect x="1741.39" y="1205.1" width="7.9" height="13.9" fill="rgba(239,83,80,0.5)"/>
<rect x="1751.13" y="1179.1" width="7.9" height="39.9" fill="rgba(38,166,154,0.5)"/>
<rect x="1760.87" y="1188.9" width="7.9" height="30.1" fill="rgba(239,83,80,0.5)"/>
<rect x="1770.62" y="1185" width="7.9" height="34" fill="rgba(239,83,80,0.5)"/>
<rect x="1780.36" y="1199" width="7.9" height="20" fill="rgba(38,166,154,0.5)"/>
<rect x="1790.1" y="1194.1" width="7.9" height="24.9" fill="rgba(38,166,154,0.5)"/>
<rect x="1799.85" y="1183.1" width="7.9" height="35.9" fill="rgba(38,166,154,0.5)"/>
<rect x="1809.59" y="1206" width="7.9" height="13" fill="rgba(239,83,80,0.5)"/>
<rect x="1819.33" y="1208" width="7.9" height="11" fill="rgba(38,166,154,0.5)"/>
<rect x="1829.08" y="1194.1" width="7.9" height="24.9" fill="rgba(38,166,154,0.5)"/>
<rect x="1838.82" y="1199" width="7.9" height="20" fill="rgba(239,83,80,0.5)"/>
<rect x="1848.56" y="1201.9" width="7.9" height="17.1" fill="rgba(38,166,154,0.5)"/>
<rect x="1858.3" y="1188" width="7.9" height="31" fill="rgba(239,83,80,0.5)"/>
<rect x="1868.05" y="1190.1" width="7.9" height="28.9" fill="rgba(38,166,154,0.5)"/>
<rect x="1877.79" y="1208" width="7.9" height="11" fill="rgba(239,83,80,0.5)"/>
<rect x="1887.53" y="1213.1" width="7.9" height="5.9" fill="rgba(239,83,80,0.5)"/>
<rect x="1897.28" y="1194.1" width="7.9" height="24.9" fill="rgba(38,166,154,0.5)"/>
<rect x="1907.02" y="1186" width="7.9" height="33" fill="rgba(38,166,154,0.5)"/>
<rect x="1916.76" y="1193" width="7.9" height="26" fill="rgba(38,166,154,0.5)"/>
<rect x="1926.51" y="1204.1" width="7.9" height="14.9" fill="rgba(239,83,80,0.5)"/>
<rect x="1936.25" y="1198" width="7.9" height="21" fill="rgba(38,166,154,0.5)"/>
<rect x="1945.99" y="1211" width="7.9" height="8" fill="rgba(239,83,80,0.5)"/>
<rect x="1955.73" y="1209" width="7.9" height="10" fill="rgba(38,166,154,0.5)"/>
<rect x="1965.48" y="1209" width="7.9" height="10" fill="rgba(239,83,80,0.5)"/>
<rect x="1975.22" y="1148" width="7.9" height="71" fill="rgba(239,83,80,0.5)"/>
<rect x="1984.96" y="1190.1" width="7.9" height="28.9" fill="rgba(38,166,154,0.5)"/>
<rect x="1994.71" y="1201.9" width="7.9" height="17.1" fill="rgba(239,83,80,0.5)"/>
<rect x="2004.45" y="1192.1" width="7.9" height="26.9" fill="rgba(239,83,80,0.5)"/>
<rect x="2014.19" y="1209" width="7.9" height="10" fill="rgba(38,166,154,0.5)"/>
<rect x="2023.93" y="1208" width="7.9" height="11" fill="rgba(38,166,154,0.5)"/>
<rect x="2033.68" y="1194.1" width="7.9" height="24.9" fill="rgba(239,83,80,0.5)"/>
<rect x="2043.42" y="1201.9" width="7.9" height="17.1" fill="rgba(38,166,154,0.5)"/>
<rect x="2053.16" y="1206" width="7.9" height="13" fill="rgba(38,166,154,0.5)"/>
<rect x="2062.91" y="1198" width="7.9" height="21" fill="rgba(239,83,80,0.5)"/>
<rect x="2072.65" y="1185" width="7.9" height="34" fill="rgba(239,83,80,0.5)"/>
<rect x="2082.39" y="1191.1" width="7.9" height="27.9" fill="rgba(38,166,154,0.5)"/>
<rect x="2092.14" y="1206" width="7.9" height="13" fill="rgba(239,83,80,0.5)"/>
<rect x="2101.88" y="1157.1" width="7.9" height="61.9" fill="rgba(239,83,80,0.5)"/>
<rect x="2111.62" y="1153.1" width="7.9" height="65.9" fill="rgba(239,83,80,0.5)"/>
<rect x="2121.37" y="1199" width="7.9" height="20" fill="rgba(38,166,154,0.5)"/>
<rect x="2131.11" y="1204.1" width="7.9" height="14.9" fill="rgba(38,166,154,0.5)"/>
<rect x="2140.85" y="1181" width="7.9" height="38" fill="rgba(239,83,80,0.5)"/>
<rect x="2150.59" y="1201" width="7.9" height="18" fill="rgba(239,83,80,0.5)"/>
<rect x="2160.34" y="1196.1" width="7.9" height="22.9" fill="rgba(38,166,154,0.5)"/>
<rect x="2170.08" y="1192.1" width="7.9" height="26.9" fill="rgba(239,83,80,0.5)"/>
<rect x="2179.82" y="1197.9" width="7.9" height="21.1" fill="rgba(239,83,80,0.5)"/>
<rect x="2189.57" y="1192" width="7.9" height="27" fill="rgba(38,166,154,0.5)"/>
<rect x="2199.31" y="1199" width="7.9" height="20" fill="rgba(38,166,154,0.5)"/>
<rect x="2209.05" y="1177.1" width="7.9" height="41.9" fill="rgba(38,166,154,0.5)"/>
<rect x="2218.8" y="1200" width="7.9" height="19" fill="rgba(38,166,154,0.5)"/>
<rect x="2228.54" y="1207.1" width="7.9" height="11.9" fill="rgba(38,166,154,0.5)"/>
<rect x="2238.28" y="1201.1" width="7.9" height="17.9" fill="rgba(239,83,80,0.5)"/>
<rect x="2248.02" y="1202" width="7.9" height="17" fill="rgba(38,166,154,0.5)"/>
<rect x="2257.77" y="1194.9" width="7.9" height="24.1" fill="rgba(38,166,154,0.5)"/>
<rect x="2267.51" y="1207.1" width="7.9" height="11.9" fill="rgba(38,166,154,0.5)"/>
<rect x="2277.25" y="1211" width="7.9" height="8" fill="rgba(38,166,154,0.5)"/>
<line x1="712.9" y1="360.2" x2="2505.5" y2="444" stroke="#000" stroke-width="4.1"/>
<polyline points="2296.6,451.2 2300.1,446.9 2302.8,441.4 2305.2,437.5 2309.5,430.1 2312.6,433.6 2314.5,439.1 2316.9,447.7 2320.8,453.9 2324.7,461.7 2330.9,472.7 2336.4,478.1 2342.7,486.7 2350.5,493" fill="none" stroke="#ff0000" stroke-width="3.6" stroke-linejoin="round" stroke-linecap="round"/>
<line x1="20" y1="473" x2="2464" y2="473" stroke="#5aa57f" stroke-width="2" stroke-dasharray="2 4"/>
<line x1="20.83" y1="840" x2="20.83" y2="871.25" stroke="#717277" stroke-width="1.8"/>
<line x1="30.57" y1="833" x2="30.57" y2="860" stroke="#717277" stroke-width="1.8"/>
<line x1="40.31" y1="813" x2="40.31" y2="887.5" stroke="#717277" stroke-width="1.8"/>
<line x1="50.06" y1="832" x2="50.06" y2="860.5" stroke="#717277" stroke-width="1.8"/>
<line x1="59.8" y1="844.5" x2="59.8" y2="981" stroke="#717277" stroke-width="1.8"/>
<line x1="69.54" y1="894" x2="69.54" y2="1058.75" stroke="#717277" stroke-width="1.8"/>
<line x1="79.28" y1="917" x2="79.28" y2="996" stroke="#717277" stroke-width="1.8"/>
<line x1="89.03" y1="931" x2="89.03" y2="1013.75" stroke="#717277" stroke-width="1.8"/>
<line x1="98.77" y1="972" x2="98.77" y2="1038.75" stroke="#717277" stroke-width="1.8"/>
<line x1="108.51" y1="986" x2="108.51" y2="1026" stroke="#717277" stroke-width="1.8"/>
<line x1="118.26" y1="1008.75" x2="118.26" y2="1085.5" stroke="#717277" stroke-width="1.8"/>
<line x1="128" y1="968" x2="128" y2="1032.5" stroke="#717277" stroke-width="1.8"/>
<line x1="137.74" y1="956" x2="137.74" y2="1015.5" stroke="#717277" stroke-width="1.8"/>
<line x1="147.49" y1="937" x2="147.49" y2="1005.5" stroke="#717277" stroke-width="1.8"/>
<line x1="157.23" y1="949" x2="157.23" y2="995.5" stroke="#717277" stroke-width="1.8"/>
<line x1="166.97" y1="977.5" x2="166.97" y2="1020.5" stroke="#717277" stroke-width="1.8"/>
<line x1="176.72" y1="931" x2="176.72" y2="991.25" stroke="#717277" stroke-width="1.8"/>
<line x1="186.46" y1="910" x2="186.46" y2="947.5" stroke="#717277" stroke-width="1.8"/>
<line x1="196.2" y1="874.5" x2="196.2" y2="934.5" stroke="#717277" stroke-width="1.8"/>
<line x1="205.94" y1="864.5" x2="205.94" y2="888.75" stroke="#717277" stroke-width="1.8"/>
<line x1="215.69" y1="862" x2="215.69" y2="902.5" stroke="#717277" stroke-width="1.8"/>
<line x1="225.43" y1="872.1" x2="225.43" y2="914.7" stroke="#717277" stroke-width="1.8"/>
<line x1="235.17" y1="874" x2="235.17" y2="915.6" stroke="#717277" stroke-width="1.8"/>
<line x1="244.92" y1="842" x2="244.92" y2="912.8" stroke="#717277" stroke-width="1.8"/>
<line x1="254.66" y1="846.3" x2="254.66" y2="876.6" stroke="#717277" stroke-width="1.8"/>
<line x1="264.4" y1="859" x2="264.4" y2="911.5" stroke="#717277" stroke-width="1.8"/>
<line x1="274.14" y1="881" x2="274.14" y2="918.8" stroke="#717277" stroke-width="1.8"/>
<line x1="283.89" y1="874" x2="283.89" y2="908.7" stroke="#717277" stroke-width="1.8"/>
<line x1="293.63" y1="872" x2="293.63" y2="902.5" stroke="#717277" stroke-width="1.8"/>
<line x1="303.37" y1="874" x2="303.37" y2="911.5" stroke="#717277" stroke-width="1.8"/>
<line x1="313.12" y1="865" x2="313.12" y2="888.4" stroke="#717277" stroke-width="1.8"/>
<line x1="322.86" y1="881.9" x2="322.86" y2="906.6" stroke="#717277" stroke-width="1.8"/>
<line x1="332.6" y1="884.9" x2="332.6" y2="938.5" stroke="#717277" stroke-width="1.8"/>
<line x1="342.35" y1="913.8" x2="342.35" y2="940" stroke="#717277" stroke-width="1.8"/>
<line x1="352.09" y1="908" x2="352.09" y2="989.7" stroke="#717277" stroke-width="1.8"/>
<line x1="361.83" y1="928.8" x2="361.83" y2="977.5" stroke="#717277" stroke-width="1.8"/>
<line x1="371.58" y1="920.9" x2="371.58" y2="963" stroke="#717277" stroke-width="1.8"/>
<line x1="381.32" y1="911" x2="381.32" y2="935.3" stroke="#717277" stroke-width="1.8"/>
<line x1="391.06" y1="912.8" x2="391.06" y2="935.9" stroke="#717277" stroke-width="1.8"/>
<line x1="400.8" y1="874" x2="400.8" y2="930.6" stroke="#717277" stroke-width="1.8"/>
<line x1="410.55" y1="868.2" x2="410.55" y2="893.7" stroke="#717277" stroke-width="1.8"/>
<line x1="420.29" y1="841.2" x2="420.29" y2="898.8" stroke="#717277" stroke-width="1.8"/>
<line x1="430.03" y1="830" x2="430.03" y2="860.7" stroke="#717277" stroke-width="1.8"/>
<line x1="439.78" y1="783" x2="439.78" y2="840.6" stroke="#717277" stroke-width="1.8"/>
<line x1="449.52" y1="785" x2="449.52" y2="826.6" stroke="#717277" stroke-width="1.8"/>
<line x1="459.26" y1="798" x2="459.26" y2="832.8" stroke="#717277" stroke-width="1.8"/>
<line x1="469" y1="787.4" x2="469" y2="824.7" stroke="#717277" stroke-width="1.8"/>
<line x1="478.75" y1="782.3" x2="478.75" y2="812.7" stroke="#717277" stroke-width="1.8"/>
<line x1="488.49" y1="788.1" x2="488.49" y2="846.2" stroke="#717277" stroke-width="1.8"/>
<line x1="498.23" y1="800.1" x2="498.23" y2="840.7" stroke="#717277" stroke-width="1.8"/>
<line x1="507.98" y1="796" x2="507.98" y2="811.8" stroke="#717277" stroke-width="1.8"/>
<line x1="517.72" y1="769.2" x2="517.72" y2="808.4" stroke="#717277" stroke-width="1.8"/>
<line x1="527.46" y1="778" x2="527.46" y2="793.8" stroke="#717277" stroke-width="1.8"/>
<line x1="537.21" y1="768" x2="537.21" y2="796.7" stroke="#717277" stroke-width="1.8"/>
<line x1="546.95" y1="737.1" x2="546.95" y2="786.9" stroke="#717277" stroke-width="1.8"/>
<line x1="556.69" y1="705" x2="556.69" y2="746.5" stroke="#717277" stroke-width="1.8"/>
<line x1="566.43" y1="680.9" x2="566.43" y2="716.8" stroke="#717277" stroke-width="1.8"/>
<line x1="576.18" y1="680.9" x2="576.18" y2="741.7" stroke="#717277" stroke-width="1.8"/>
<line x1="585.92" y1="692.9" x2="585.92" y2="739.7" stroke="#717277" stroke-width="1.8"/>
<line x1="595.66" y1="731.1" x2="595.66" y2="840.7" stroke="#717277" stroke-width="1.8"/>
<line x1="605.41" y1="746.9" x2="605.41" y2="802.9" stroke="#717277" stroke-width="1.8"/>
<line x1="615.15" y1="729" x2="615.15" y2="809.8" stroke="#717277" stroke-width="1.8"/>
<line x1="624.89" y1="698.9" x2="624.89" y2="758.6" stroke="#717277" stroke-width="1.8"/>
<line x1="634.64" y1="658" x2="634.64" y2="742.7" stroke="#717277" stroke-width="1.8"/>
<line x1="644.38" y1="706.2" x2="644.38" y2="794.6" stroke="#717277" stroke-width="1.8"/>
<line x1="654.12" y1="724.7" x2="654.12" y2="780.5" stroke="#717277" stroke-width="1.8"/>
<line x1="663.87" y1="727.3" x2="663.87" y2="778.8" stroke="#717277" stroke-width="1.8"/>
<line x1="673.61" y1="681.8" x2="673.61" y2="740.5" stroke="#717277" stroke-width="1.8"/>
<line x1="683.35" y1="650.3" x2="683.35" y2="696.7" stroke="#717277" stroke-width="1.8"/>
<line x1="693.09" y1="632.5" x2="693.09" y2="678.3" stroke="#717277" stroke-width="1.8"/>
<line x1="702.84" y1="624" x2="702.84" y2="653.5" stroke="#717277" stroke-width="1.8"/>
<line x1="712.58" y1="624" x2="712.58" y2="641.5" stroke="#717277" stroke-width="1.8"/>
<line x1="722.32" y1="591.7" x2="722.32" y2="634.7" stroke="#717277" stroke-width="1.8"/>
<line x1="732.07" y1="586" x2="732.07" y2="614.7" stroke="#717277" stroke-width="1.8"/>
<line x1="741.81" y1="498.9" x2="741.81" y2="593.1" stroke="#717277" stroke-width="1.8"/>
<line x1="751.55" y1="486.8" x2="751.55" y2="551.5" stroke="#717277" stroke-width="1.8"/>
<line x1="761.3" y1="482" x2="761.3" y2="544.7" stroke="#717277" stroke-width="1.8"/>
<line x1="771.04" y1="472.7" x2="771.04" y2="513.8" stroke="#717277" stroke-width="1.8"/>
<line x1="780.78" y1="476.4" x2="780.78" y2="517.7" stroke="#717277" stroke-width="1.8"/>
<line x1="790.52" y1="418.2" x2="790.52" y2="500.9" stroke="#717277" stroke-width="1.8"/>
<line x1="800.27" y1="413.7" x2="800.27" y2="454.7" stroke="#717277" stroke-width="1.8"/>
<line x1="810.01" y1="382.7" x2="810.01" y2="466.5" stroke="#717277" stroke-width="1.8"/>
<line x1="819.75" y1="385" x2="819.75" y2="447.4" stroke="#717277" stroke-width="1.8"/>
<line x1="829.5" y1="358.3" x2="829.5" y2="451.1" stroke="#717277" stroke-width="1.8"/>
<line x1="839.24" y1="406.1" x2="839.24" y2="484.8" stroke="#717277" stroke-width="1.8"/>
<line x1="848.98" y1="385.8" x2="848.98" y2="460.9" stroke="#717277" stroke-width="1.8"/>
<line x1="858.73" y1="392" x2="858.73" y2="470.8" stroke="#717277" stroke-width="1.8"/>
<line x1="868.47" y1="430" x2="868.47" y2="520" stroke="#717277" stroke-width="1.8"/>
<line x1="878.21" y1="477.2" x2="878.21" y2="561.6" stroke="#717277" stroke-width="1.8"/>
<line x1="887.95" y1="480" x2="887.95" y2="537.4" stroke="#717277" stroke-width="1.8"/>
<line x1="897.7" y1="502.5" x2="897.7" y2="872" stroke="#717277" stroke-width="1.8"/>
<line x1="907.44" y1="584.6" x2="907.44" y2="779.6" stroke="#717277" stroke-width="1.8"/>
<line x1="917.18" y1="595.2" x2="917.18" y2="795.5" stroke="#717277" stroke-width="1.8"/>
<line x1="926.93" y1="695" x2="926.93" y2="781" stroke="#717277" stroke-width="1.8"/>
<line x1="936.67" y1="721.2" x2="936.67" y2="911" stroke="#717277" stroke-width="1.8"/>
<line x1="946.41" y1="651.9" x2="946.41" y2="800.4" stroke="#717277" stroke-width="1.8"/>
<line x1="956.15" y1="627" x2="956.15" y2="720.4" stroke="#717277" stroke-width="1.8"/>
<line x1="965.9" y1="601.9" x2="965.9" y2="658.2" stroke="#717277" stroke-width="1.8"/>
<line x1="975.64" y1="606.2" x2="975.64" y2="659.7" stroke="#717277" stroke-width="1.8"/>
<line x1="985.38" y1="632.2" x2="985.38" y2="735.7" stroke="#717277" stroke-width="1.8"/>
<line x1="995.13" y1="674.1" x2="995.13" y2="766.6" stroke="#717277" stroke-width="1.8"/>
<line x1="1004.87" y1="697.2" x2="1004.87" y2="773.2" stroke="#717277" stroke-width="1.8"/>
<line x1="1014.61" y1="642.3" x2="1014.61" y2="748.4" stroke="#717277" stroke-width="1.8"/>
<line x1="1024.36" y1="638" x2="1024.36" y2="686.6" stroke="#717277" stroke-width="1.8"/>
<line x1="1034.1" y1="624.1" x2="1034.1" y2="680.8" stroke="#717277" stroke-width="1.8"/>
<line x1="1043.84" y1="606.1" x2="1043.84" y2="654.7" stroke="#717277" stroke-width="1.8"/>
<line x1="1053.59" y1="612.3" x2="1053.59" y2="680.5" stroke="#717277" stroke-width="1.8"/>
<line x1="1063.33" y1="621.2" x2="1063.33" y2="680.5" stroke="#717277" stroke-width="1.8"/>
<line x1="1073.07" y1="636.4" x2="1073.07" y2="665.4" stroke="#717277" stroke-width="1.8"/>
<line x1="1082.81" y1="614.4" x2="1082.81" y2="675.4" stroke="#717277" stroke-width="1.8"/>
<line x1="1092.56" y1="663.3" x2="1092.56" y2="740.7" stroke="#717277" stroke-width="1.8"/>
<line x1="1102.3" y1="662.5" x2="1102.3" y2="715.4" stroke="#717277" stroke-width="1.8"/>
<line x1="1112.04" y1="663.3" x2="1112.04" y2="710.6" stroke="#717277" stroke-width="1.8"/>
<line x1="1121.79" y1="692" x2="1121.79" y2="736.4" stroke="#717277" stroke-width="1.8"/>
<line x1="1131.53" y1="703.4" x2="1131.53" y2="754.4" stroke="#717277" stroke-width="1.8"/>
<line x1="1141.27" y1="681.4" x2="1141.27" y2="740.7" stroke="#717277" stroke-width="1.8"/>
<line x1="1151.01" y1="667.3" x2="1151.01" y2="701.6" stroke="#717277" stroke-width="1.8"/>
<line x1="1160.76" y1="659" x2="1160.76" y2="691.7" stroke="#717277" stroke-width="1.8"/>
<line x1="1170.5" y1="679.3" x2="1170.5" y2="729.5" stroke="#717277" stroke-width="1.8"/>
<line x1="1180.24" y1="701.1" x2="1180.24" y2="741.5" stroke="#717277" stroke-width="1.8"/>
<line x1="1189.99" y1="722.3" x2="1189.99" y2="785.3" stroke="#717277" stroke-width="1.8"/>
<line x1="1199.73" y1="746.7" x2="1199.73" y2="779.3" stroke="#717277" stroke-width="1.8"/>
<line x1="1209.47" y1="748.2" x2="1209.47" y2="813.4" stroke="#717277" stroke-width="1.8"/>
<line x1="1219.22" y1="752.9" x2="1219.22" y2="867.7" stroke="#717277" stroke-width="1.8"/>
<line x1="1228.96" y1="826.1" x2="1228.96" y2="922.4" stroke="#717277" stroke-width="1.8"/>
<line x1="1238.7" y1="812.1" x2="1238.7" y2="880.4" stroke="#717277" stroke-width="1.8"/>
<line x1="1248.44" y1="814" x2="1248.44" y2="861.9" stroke="#717277" stroke-width="1.8"/>
<line x1="1258.19" y1="818.9" x2="1258.19" y2="891.6" stroke="#717277" stroke-width="1.8"/>
<line x1="1267.93" y1="871.3" x2="1267.93" y2="916.6" stroke="#717277" stroke-width="1.8"/>
<line x1="1277.67" y1="829.1" x2="1277.67" y2="886.3" stroke="#717277" stroke-width="1.8"/>
<line x1="1287.42" y1="783.2" x2="1287.42" y2="836.5" stroke="#717277" stroke-width="1.8"/>
<line x1="1297.16" y1="756.4" x2="1297.16" y2="803.7" stroke="#717277" stroke-width="1.8"/>
<line x1="1306.9" y1="745.3" x2="1306.9" y2="799.8" stroke="#717277" stroke-width="1.8"/>
<line x1="1316.65" y1="748.2" x2="1316.65" y2="806.8" stroke="#717277" stroke-width="1.8"/>
<line x1="1326.39" y1="779.3" x2="1326.39" y2="820.5" stroke="#717277" stroke-width="1.8"/>
<line x1="1336.13" y1="757" x2="1336.13" y2="792.5" stroke="#717277" stroke-width="1.8"/>
<line x1="1345.88" y1="719.3" x2="1345.88" y2="771.6" stroke="#717277" stroke-width="1.8"/>
<line x1="1355.62" y1="736.5" x2="1355.62" y2="780.4" stroke="#717277" stroke-width="1.8"/>
<line x1="1365.36" y1="729.1" x2="1365.36" y2="769.5" stroke="#717277" stroke-width="1.8"/>
<line x1="1375.1" y1="714" x2="1375.1" y2="743.7" stroke="#717277" stroke-width="1.8"/>
<line x1="1384.85" y1="735.3" x2="1384.85" y2="801.7" stroke="#717277" stroke-width="1.8"/>
<line x1="1394.59" y1="772" x2="1394.59" y2="810.7" stroke="#717277" stroke-width="1.8"/>
<line x1="1404.33" y1="770.1" x2="1404.33" y2="803.7" stroke="#717277" stroke-width="1.8"/>
<line x1="1414.08" y1="775" x2="1414.08" y2="801.7" stroke="#717277" stroke-width="1.8"/>
<line x1="1423.82" y1="777" x2="1423.82" y2="823.5" stroke="#717277" stroke-width="1.8"/>
<line x1="1433.56" y1="811.1" x2="1433.56" y2="850.5" stroke="#717277" stroke-width="1.8"/>
<line x1="1443.31" y1="819" x2="1443.31" y2="867.5" stroke="#717277" stroke-width="1.8"/>
<line x1="1453.05" y1="813.4" x2="1453.05" y2="862.3" stroke="#717277" stroke-width="1.8"/>
<line x1="1462.79" y1="835.5" x2="1462.79" y2="872.6" stroke="#717277" stroke-width="1.8"/>
<line x1="1472.53" y1="850.5" x2="1472.53" y2="873.6" stroke="#717277" stroke-width="1.8"/>
<line x1="1482.28" y1="827.1" x2="1482.28" y2="863.4" stroke="#717277" stroke-width="1.8"/>
<line x1="1492.02" y1="850.5" x2="1492.02" y2="886.3" stroke="#717277" stroke-width="1.8"/>
<line x1="1501.76" y1="875.2" x2="1501.76" y2="916.6" stroke="#717277" stroke-width="1.8"/>
<line x1="1511.51" y1="815.4" x2="1511.51" y2="904.5" stroke="#717277" stroke-width="1.8"/>
<line x1="1521.25" y1="811.5" x2="1521.25" y2="841.4" stroke="#717277" stroke-width="1.8"/>
<line x1="1530.99" y1="787.1" x2="1530.99" y2="826.3" stroke="#717277" stroke-width="1.8"/>
<line x1="1540.74" y1="768.1" x2="1540.74" y2="794.5" stroke="#717277" stroke-width="1.8"/>
<line x1="1550.48" y1="768.1" x2="1550.48" y2="794.5" stroke="#717277" stroke-width="1.8"/>
<line x1="1560.22" y1="708" x2="1560.22" y2="775.4" stroke="#717277" stroke-width="1.8"/>
<line x1="1569.96" y1="736.1" x2="1569.96" y2="782.8" stroke="#717277" stroke-width="1.8"/>
<line x1="1579.71" y1="730" x2="1579.71" y2="756.8" stroke="#717277" stroke-width="1.8"/>
<line x1="1589.45" y1="715" x2="1589.45" y2="752.1" stroke="#717277" stroke-width="1.8"/>
<line x1="1599.19" y1="698.8" x2="1599.19" y2="737.5" stroke="#717277" stroke-width="1.8"/>
<line x1="1608.94" y1="679.3" x2="1608.94" y2="711.3" stroke="#717277" stroke-width="1.8"/>
<line x1="1618.68" y1="646.9" x2="1618.68" y2="689.5" stroke="#717277" stroke-width="1.8"/>
<line x1="1628.42" y1="654.3" x2="1628.42" y2="691.4" stroke="#717277" stroke-width="1.8"/>
<line x1="1638.16" y1="662.1" x2="1638.16" y2="706.6" stroke="#717277" stroke-width="1.8"/>
<line x1="1647.91" y1="630.3" x2="1647.91" y2="702.7" stroke="#717277" stroke-width="1.8"/>
<line x1="1657.65" y1="615.2" x2="1657.65" y2="685.5" stroke="#717277" stroke-width="1.8"/>
<line x1="1667.39" y1="594.1" x2="1667.39" y2="642.6" stroke="#717277" stroke-width="1.8"/>
<line x1="1677.14" y1="550.4" x2="1677.14" y2="610.4" stroke="#717277" stroke-width="1.8"/>
<line x1="1686.88" y1="546.9" x2="1686.88" y2="594.7" stroke="#717277" stroke-width="1.8"/>
<line x1="1696.62" y1="546.9" x2="1696.62" y2="605.5" stroke="#717277" stroke-width="1.8"/>
<line x1="1706.37" y1="539.1" x2="1706.37" y2="574.6" stroke="#717277" stroke-width="1.8"/>
<line x1="1716.11" y1="529.9" x2="1716.11" y2="560.5" stroke="#717277" stroke-width="1.8"/>
<line x1="1725.85" y1="538.1" x2="1725.85" y2="588.9" stroke="#717277" stroke-width="1.8"/>
<line x1="1735.6" y1="521.1" x2="1735.6" y2="577.7" stroke="#717277" stroke-width="1.8"/>
<line x1="1745.34" y1="521.1" x2="1745.34" y2="544.5" stroke="#717277" stroke-width="1.8"/>
<line x1="1755.08" y1="522.1" x2="1755.08" y2="562.5" stroke="#717277" stroke-width="1.8"/>
<line x1="1764.82" y1="520.1" x2="1764.82" y2="558.6" stroke="#717277" stroke-width="1.8"/>
<line x1="1774.57" y1="528.3" x2="1774.57" y2="585.9" stroke="#717277" stroke-width="1.8"/>
<line x1="1784.31" y1="559.2" x2="1784.31" y2="593.4" stroke="#717277" stroke-width="1.8"/>
<line x1="1794.05" y1="547.5" x2="1794.05" y2="592.2" stroke="#717277" stroke-width="1.8"/>
<line x1="1803.8" y1="526" x2="1803.8" y2="549.8" stroke="#717277" stroke-width="1.8"/>
<line x1="1813.54" y1="525" x2="1813.54" y2="543.4" stroke="#717277" stroke-width="1.8"/>
<line x1="1823.28" y1="530.9" x2="1823.28" y2="558.2" stroke="#717277" stroke-width="1.8"/>
<line x1="1833.03" y1="512" x2="1833.03" y2="540" stroke="#717277" stroke-width="1.8"/>
<line x1="1842.77" y1="516.2" x2="1842.77" y2="555.6" stroke="#717277" stroke-width="1.8"/>
<line x1="1852.51" y1="536.6" x2="1852.51" y2="567.8" stroke="#717277" stroke-width="1.8"/>
<line x1="1862.25" y1="535.4" x2="1862.25" y2="573.1" stroke="#717277" stroke-width="1.8"/>
<line x1="1872" y1="530.1" x2="1872" y2="571.7" stroke="#717277" stroke-width="1.8"/>
<line x1="1881.74" y1="529.1" x2="1881.74" y2="543.8" stroke="#717277" stroke-width="1.8"/>
<line x1="1891.48" y1="529.1" x2="1891.48" y2="554.5" stroke="#717277" stroke-width="1.8"/>
<line x1="1901.23" y1="518" x2="1901.23" y2="556.5" stroke="#717277" stroke-width="1.8"/>
<line x1="1910.97" y1="495.9" x2="1910.97" y2="547.7" stroke="#717277" stroke-width="1.8"/>
<line x1="1920.71" y1="435" x2="1920.71" y2="512.5" stroke="#717277" stroke-width="1.8"/>
<line x1="1930.46" y1="437" x2="1930.46" y2="455.7" stroke="#717277" stroke-width="1.8"/>
<line x1="1940.2" y1="409.1" x2="1940.2" y2="457.8" stroke="#717277" stroke-width="1.8"/>
<line x1="1949.94" y1="416.5" x2="1949.94" y2="438.8" stroke="#717277" stroke-width="1.8"/>
<line x1="1959.68" y1="415" x2="1959.68" y2="437.5" stroke="#717277" stroke-width="1.8"/>
<line x1="1969.43" y1="416.2" x2="1969.43" y2="432.6" stroke="#717277" stroke-width="1.8"/>
<line x1="1979.17" y1="420.1" x2="1979.17" y2="581.9" stroke="#717277" stroke-width="1.8"/>
<line x1="1988.91" y1="482.3" x2="1988.91" y2="542.8" stroke="#717277" stroke-width="1.8"/>
<line x1="1998.66" y1="479.9" x2="1998.66" y2="511.6" stroke="#717277" stroke-width="1.8"/>
<line x1="2008.4" y1="490.1" x2="2008.4" y2="555.5" stroke="#717277" stroke-width="1.8"/>
<line x1="2018.14" y1="518" x2="2018.14" y2="545.7" stroke="#717277" stroke-width="1.8"/>
<line x1="2027.88" y1="495.9" x2="2027.88" y2="539.9" stroke="#717277" stroke-width="1.8"/>
<line x1="2037.63" y1="503.4" x2="2037.63" y2="562.3" stroke="#717277" stroke-width="1.8"/>
<line x1="2047.37" y1="503.4" x2="2047.37" y2="532.7" stroke="#717277" stroke-width="1.8"/>
<line x1="2057.11" y1="470.9" x2="2057.11" y2="516.4" stroke="#717277" stroke-width="1.8"/>
<line x1="2066.86" y1="462.1" x2="2066.86" y2="494.8" stroke="#717277" stroke-width="1.8"/>
<line x1="2076.6" y1="476.2" x2="2076.6" y2="518.5" stroke="#717277" stroke-width="1.8"/>
<line x1="2086.34" y1="484.1" x2="2086.34" y2="514.7" stroke="#717277" stroke-width="1.8"/>
<line x1="2096.09" y1="499.7" x2="2096.09" y2="530.4" stroke="#717277" stroke-width="1.8"/>
<line x1="2105.83" y1="518.6" x2="2105.83" y2="601.6" stroke="#717277" stroke-width="1.8"/>
<line x1="2115.57" y1="563.6" x2="2115.57" y2="657.3" stroke="#717277" stroke-width="1.8"/>
<line x1="2125.32" y1="565.5" x2="2125.32" y2="638.8" stroke="#717277" stroke-width="1.8"/>
<line x1="2135.06" y1="549.9" x2="2135.06" y2="577.2" stroke="#717277" stroke-width="1.8"/>
<line x1="2144.8" y1="553.8" x2="2144.8" y2="639.7" stroke="#717277" stroke-width="1.8"/>
<line x1="2154.54" y1="590.3" x2="2154.54" y2="624.7" stroke="#717277" stroke-width="1.8"/>
<line x1="2164.29" y1="561" x2="2164.29" y2="637.8" stroke="#717277" stroke-width="1.8"/>
<line x1="2174.03" y1="550.5" x2="2174.03" y2="599.3" stroke="#717277" stroke-width="1.8"/>
<line x1="2183.77" y1="589" x2="2183.77" y2="627.4" stroke="#717277" stroke-width="1.8"/>
<line x1="2193.52" y1="593.8" x2="2193.52" y2="628.6" stroke="#717277" stroke-width="1.8"/>
<line x1="2203.26" y1="574.3" x2="2203.26" y2="617.7" stroke="#717277" stroke-width="1.8"/>
<line x1="2213" y1="521.2" x2="2213" y2="590.3" stroke="#717277" stroke-width="1.8"/>
<line x1="2222.74" y1="497.1" x2="2222.74" y2="534.8" stroke="#717277" stroke-width="1.8"/>
<line x1="2232.49" y1="493.2" x2="2232.49" y2="519.6" stroke="#717277" stroke-width="1.8"/>
<line x1="2242.23" y1="502" x2="2242.23" y2="532.3" stroke="#717277" stroke-width="1.8"/>
<line x1="2251.97" y1="484.1" x2="2251.97" y2="515.7" stroke="#717277" stroke-width="1.8"/>
<line x1="2261.72" y1="470.8" x2="2261.72" y2="520.6" stroke="#717277" stroke-width="1.8"/>
<line x1="2271.46" y1="465.9" x2="2271.46" y2="497.7" stroke="#717277" stroke-width="1.8"/>
<line x1="2281.2" y1="462.5" x2="2281.2" y2="483.3" stroke="#717277" stroke-width="1.8"/>
<rect x="17.68" y="845.35" width="6.3" height="25.05" fill="#6fa886" stroke="#174c2f" stroke-width="1.7"/>
<rect x="27.42" y="839.35" width="6.3" height="1.8" fill="#6fa886" stroke="#174c2f" stroke-width="1.7"/>
<rect x="37.16" y="839.35" width="6.3" height="11.05" fill="#df5944" stroke="#53110c" stroke-width="1.7"/>
<rect x="46.91" y="846.35" width="6.3" height="4.05" fill="#6fa886" stroke="#174c2f" stroke-width="1.7"/>
<rect x="56.65" y="845.35" width="6.3" height="49.3" fill="#df5944" stroke="#53110c" stroke-width="1.7"/>
<rect x="66.39" y="896.35" width="6.3" height="69.05" fill="#df5944" stroke="#53110c" stroke-width="1.7"/>
<rect x="76.13" y="950.35" width="6.3" height="15.05" fill="#6fa886" stroke="#174c2f" stroke-width="1.7"/>
<rect x="85.88" y="950.35" width="6.3" height="52.55" fill="#df5944" stroke="#53110c" stroke-width="1.7"/>
<rect x="95.62" y="1005.35" width="6.3" height="12.05" fill="#df5944" stroke="#53110c" stroke-width="1.7"/>
<rect x="105.36" y="1014.35" width="6.3" height="4.05" fill="#6fa886" stroke="#174c2f" stroke-width="1.7"/>
<rect x="115.11" y="1014.35" width="6.3" height="13.05" fill="#df5944" stroke="#53110c" stroke-width="1.7"/>
<rect x="124.85" y="970.1" width="6.3" height="56.55" fill="#6fa886" stroke="#174c2f" stroke-width="1.7"/>
<rect x="134.59" y="969.35" width="6.3" height="31.05" fill="#df5944" stroke="#53110c" stroke-width="1.7"/>
<rect x="144.34" y="971.35" width="6.3" height="29.8" fill="#6fa886" stroke="#174c2f" stroke-width="1.7"/>
<rect x="154.08" y="971.35" width="6.3" height="8.55" fill="#df5944" stroke="#53110c" stroke-width="1.7"/>
<rect x="163.82" y="982.35" width="6.3" height="3.05" fill="#df5944" stroke="#53110c" stroke-width="1.7"/>
<rect x="173.56" y="940.35" width="6.3" height="43.8" fill="#6fa886" stroke="#174c2f" stroke-width="1.7"/>
<rect x="183.31" y="913.35" width="6.3" height="24.8" fill="#6fa886" stroke="#174c2f" stroke-width="1.7"/>
<rect x="193.05" y="877.1" width="6.3" height="34.05" fill="#6fa886" stroke="#174c2f" stroke-width="1.7"/>
<rect x="202.79" y="865.35" width="6.3" height="9.55" fill="#6fa886" stroke="#174c2f" stroke-width="1.7"/>
<rect x="212.54" y="865.35" width="6.3" height="23.8" fill="#df5944" stroke="#53110c" stroke-width="1.7"/>
<rect x="222.28" y="880.15" width="6.3" height="9.3" fill="#6fa886" stroke="#174c2f" stroke-width="1.7"/>
<rect x="232.02" y="880.15" width="6.3" height="18.3" fill="#df5944" stroke="#53110c" stroke-width="1.7"/>
<rect x="241.77" y="850.45" width="6.3" height="48" fill="#6fa886" stroke="#174c2f" stroke-width="1.7"/>
<rect x="251.51" y="850.45" width="6.3" height="21.2" fill="#df5944" stroke="#53110c" stroke-width="1.7"/>
<rect x="261.25" y="873.35" width="6.3" height="15.8" fill="#df5944" stroke="#53110c" stroke-width="1.7"/>
<rect x="271" y="887.25" width="6.3" height="1.5" fill="#6fa886" stroke="#174c2f" stroke-width="1.7"/>
<rect x="280.74" y="882.15" width="6.3" height="2.3" fill="#6fa886" stroke="#174c2f" stroke-width="1.7"/>
<rect x="290.48" y="879.35" width="6.3" height="16.1" fill="#df5944" stroke="#53110c" stroke-width="1.7"/>
<rect x="300.22" y="886.15" width="6.3" height="9.3" fill="#6fa886" stroke="#174c2f" stroke-width="1.7"/>
<rect x="309.97" y="884.85" width="6.3" height="1.8" fill="#df5944" stroke="#53110c" stroke-width="1.7"/>
<rect x="319.71" y="887.05" width="6.3" height="5.2" fill="#df5944" stroke="#53110c" stroke-width="1.7"/>
<rect x="329.45" y="893.95" width="6.3" height="33.6" fill="#df5944" stroke="#53110c" stroke-width="1.7"/>
<rect x="339.2" y="929.25" width="6.3" height="2" fill="#df5944" stroke="#53110c" stroke-width="1.7"/>
<rect x="348.94" y="934.25" width="6.3" height="29.3" fill="#df5944" stroke="#53110c" stroke-width="1.7"/>
<rect x="358.68" y="963.4" width="6.3" height="1.5" fill="#6fa886" stroke="#174c2f" stroke-width="1.7"/>
<rect x="368.43" y="923.05" width="6.3" height="39.1" fill="#6fa886" stroke="#174c2f" stroke-width="1.7"/>
<rect x="378.17" y="918.35" width="6.3" height="3" fill="#6fa886" stroke="#174c2f" stroke-width="1.7"/>
<rect x="387.91" y="918.35" width="6.3" height="8.2" fill="#df5944" stroke="#53110c" stroke-width="1.7"/>
<rect x="397.65" y="883.15" width="6.3" height="43.4" fill="#6fa886" stroke="#174c2f" stroke-width="1.7"/>
<rect x="407.4" y="874.85" width="6.3" height="6.7" fill="#6fa886" stroke="#174c2f" stroke-width="1.7"/>
<rect x="417.14" y="851.05" width="6.3" height="22.1" fill="#6fa886" stroke="#174c2f" stroke-width="1.7"/>
<rect x="426.88" y="836.25" width="6.3" height="12.2" fill="#6fa886" stroke="#174c2f" stroke-width="1.7"/>
<rect x="436.63" y="787.15" width="6.3" height="47.4" fill="#6fa886" stroke="#174c2f" stroke-width="1.7"/>
<rect x="446.37" y="787.15" width="6.3" height="35.2" fill="#df5944" stroke="#53110c" stroke-width="1.7"/>
<rect x="456.11" y="804.35" width="6.3" height="18" fill="#6fa886" stroke="#174c2f" stroke-width="1.7"/>
<rect x="465.86" y="795.45" width="6.3" height="6.9" fill="#6fa886" stroke="#174c2f" stroke-width="1.7"/>
<rect x="475.6" y="792.4" width="6.3" height="1.5" fill="#6fa886" stroke="#174c2f" stroke-width="1.7"/>
<rect x="485.34" y="793.45" width="6.3" height="41.9" fill="#df5944" stroke="#53110c" stroke-width="1.7"/>
<rect x="495.08" y="802.35" width="6.3" height="33" fill="#6fa886" stroke="#174c2f" stroke-width="1.7"/>
<rect x="504.83" y="802.35" width="6.3" height="3.1" fill="#df5944" stroke="#53110c" stroke-width="1.7"/>
<rect x="514.57" y="787.25" width="6.3" height="18.2" fill="#6fa886" stroke="#174c2f" stroke-width="1.7"/>
<rect x="524.31" y="784.2" width="6.3" height="1.5" fill="#6fa886" stroke="#174c2f" stroke-width="1.7"/>
<rect x="534.06" y="783.15" width="6.3" height="2.4" fill="#df5944" stroke="#53110c" stroke-width="1.7"/>
<rect x="543.8" y="743.25" width="6.3" height="41.6" fill="#6fa886" stroke="#174c2f" stroke-width="1.7"/>
<rect x="553.54" y="709.25" width="6.3" height="32.3" fill="#6fa886" stroke="#174c2f" stroke-width="1.7"/>
<rect x="563.28" y="689.35" width="6.3" height="18.2" fill="#6fa886" stroke="#174c2f" stroke-width="1.7"/>
<rect x="573.03" y="689.35" width="6.3" height="19.9" fill="#df5944" stroke="#53110c" stroke-width="1.7"/>
<rect x="582.77" y="710.95" width="6.3" height="25.8" fill="#df5944" stroke="#53110c" stroke-width="1.7"/>
<rect x="592.51" y="738.45" width="6.3" height="18.4" fill="#df5944" stroke="#53110c" stroke-width="1.7"/>
<rect x="602.26" y="758.55" width="6.3" height="18.9" fill="#df5944" stroke="#53110c" stroke-width="1.7"/>
<rect x="612" y="734.15" width="6.3" height="43.3" fill="#6fa886" stroke="#174c2f" stroke-width="1.7"/>
<rect x="621.74" y="728.15" width="6.3" height="4.6" fill="#6fa886" stroke="#174c2f" stroke-width="1.7"/>
<rect x="631.49" y="716.95" width="6.3" height="8.6" fill="#6fa886" stroke="#174c2f" stroke-width="1.7"/>
<rect x="641.23" y="718.15" width="6.3" height="5.2" fill="#df5944" stroke="#53110c" stroke-width="1.7"/>
<rect x="650.97" y="725.55" width="6.3" height="37.7" fill="#df5944" stroke="#53110c" stroke-width="1.7"/>
<rect x="660.72" y="737.45" width="6.3" height="25.8" fill="#6fa886" stroke="#174c2f" stroke-width="1.7"/>
<rect x="670.46" y="685.15" width="6.3" height="50.6" fill="#6fa886" stroke="#174c2f" stroke-width="1.7"/>
<rect x="680.2" y="654.25" width="6.3" height="29.2" fill="#6fa886" stroke="#174c2f" stroke-width="1.7"/>
<rect x="689.94" y="636.15" width="6.3" height="16" fill="#6fa886" stroke="#174c2f" stroke-width="1.7"/>
<rect x="699.69" y="634.1" width="6.3" height="1.5" fill="#6fa886" stroke="#174c2f" stroke-width="1.7"/>
<rect x="709.43" y="631" width="6.3" height="1.5" fill="#6fa886" stroke="#174c2f" stroke-width="1.7"/>
<rect x="719.17" y="595.35" width="6.3" height="33.5" fill="#6fa886" stroke="#174c2f" stroke-width="1.7"/>
<rect x="728.92" y="593.05" width="6.3" height="1.5" fill="#6fa886" stroke="#174c2f" stroke-width="1.7"/>
<rect x="738.66" y="505.35" width="6.3" height="86.9" fill="#6fa886" stroke="#174c2f" stroke-width="1.7"/>
<rect x="748.4" y="503.95" width="6.3" height="33.5" fill="#df5944" stroke="#53110c" stroke-width="1.7"/>
<rect x="758.15" y="487.95" width="6.3" height="48.6" fill="#6fa886" stroke="#174c2f" stroke-width="1.7"/>
<rect x="767.89" y="488.45" width="6.3" height="4" fill="#df5944" stroke="#53110c" stroke-width="1.7"/>
<rect x="777.63" y="493.5" width="6.3" height="1.5" fill="#df5944" stroke="#53110c" stroke-width="1.7"/>
<rect x="787.37" y="426.05" width="6.3" height="67.2" fill="#6fa886" stroke="#174c2f" stroke-width="1.7"/>
<rect x="797.12" y="423.45" width="6.3" height="1.5" fill="#6fa886" stroke="#174c2f" stroke-width="1.7"/>
<rect x="806.86" y="421.05" width="6.3" height="1.5" fill="#6fa886" stroke="#174c2f" stroke-width="1.7"/>
<rect x="816.6" y="387.25" width="6.3" height="32" fill="#6fa886" stroke="#174c2f" stroke-width="1.7"/>
<rect x="826.35" y="387.25" width="6.3" height="52.6" fill="#df5944" stroke="#53110c" stroke-width="1.7"/>
<rect x="836.09" y="443.45" width="6.3" height="10.4" fill="#df5944" stroke="#53110c" stroke-width="1.7"/>
<rect x="845.83" y="401.35" width="6.3" height="53.1" fill="#6fa886" stroke="#174c2f" stroke-width="1.7"/>
<rect x="855.58" y="401.35" width="6.3" height="64.9" fill="#df5944" stroke="#53110c" stroke-width="1.7"/>
<rect x="865.32" y="468.85" width="6.3" height="7.5" fill="#df5944" stroke="#53110c" stroke-width="1.7"/>
<rect x="875.06" y="479.25" width="6.3" height="49.7" fill="#df5944" stroke="#53110c" stroke-width="1.7"/>
<rect x="884.8" y="513.85" width="6.3" height="15.1" fill="#6fa886" stroke="#174c2f" stroke-width="1.7"/>
<rect x="894.55" y="514.65" width="6.3" height="189" fill="#df5944" stroke="#53110c" stroke-width="1.7"/>
<rect x="904.29" y="631.05" width="6.3" height="72.6" fill="#6fa886" stroke="#174c2f" stroke-width="1.7"/>
<rect x="914.03" y="631.05" width="6.3" height="76" fill="#df5944" stroke="#53110c" stroke-width="1.7"/>
<rect x="923.78" y="709.65" width="6.3" height="32.1" fill="#df5944" stroke="#53110c" stroke-width="1.7"/>
<rect x="933.52" y="745.15" width="6.3" height="51" fill="#df5944" stroke="#53110c" stroke-width="1.7"/>
<rect x="943.26" y="658.55" width="6.3" height="136.9" fill="#6fa886" stroke="#174c2f" stroke-width="1.7"/>
<rect x="953" y="646.65" width="6.3" height="9.3" fill="#6fa886" stroke="#174c2f" stroke-width="1.7"/>
<rect x="962.75" y="607.05" width="6.3" height="35.3" fill="#6fa886" stroke="#174c2f" stroke-width="1.7"/>
<rect x="972.49" y="607.05" width="6.3" height="29.2" fill="#df5944" stroke="#53110c" stroke-width="1.7"/>
<rect x="982.23" y="640.35" width="6.3" height="71.9" fill="#df5944" stroke="#53110c" stroke-width="1.7"/>
<rect x="991.98" y="715.45" width="6.3" height="30.9" fill="#df5944" stroke="#53110c" stroke-width="1.7"/>
<rect x="1001.72" y="720.35" width="6.3" height="26" fill="#6fa886" stroke="#174c2f" stroke-width="1.7"/>
<rect x="1011.46" y="646.05" width="6.3" height="74.3" fill="#6fa886" stroke="#174c2f" stroke-width="1.7"/>
<rect x="1021.21" y="646.65" width="6.3" height="13.6" fill="#df5944" stroke="#53110c" stroke-width="1.7"/>
<rect x="1030.95" y="646.65" width="6.3" height="13.6" fill="#6fa886" stroke="#174c2f" stroke-width="1.7"/>
<rect x="1040.69" y="614.35" width="6.3" height="31" fill="#6fa886" stroke="#174c2f" stroke-width="1.7"/>
<rect x="1050.43" y="613.15" width="6.3" height="34.4" fill="#df5944" stroke="#53110c" stroke-width="1.7"/>
<rect x="1060.18" y="649.25" width="6.3" height="12" fill="#df5944" stroke="#53110c" stroke-width="1.7"/>
<rect x="1069.92" y="645.25" width="6.3" height="16" fill="#6fa886" stroke="#174c2f" stroke-width="1.7"/>
<rect x="1079.66" y="645.25" width="6.3" height="24.1" fill="#df5944" stroke="#53110c" stroke-width="1.7"/>
<rect x="1089.41" y="672.25" width="6.3" height="17.2" fill="#df5944" stroke="#53110c" stroke-width="1.7"/>
<rect x="1099.15" y="667.25" width="6.3" height="22.2" fill="#6fa886" stroke="#174c2f" stroke-width="1.7"/>
<rect x="1108.89" y="667.25" width="6.3" height="31" fill="#df5944" stroke="#53110c" stroke-width="1.7"/>
<rect x="1118.64" y="699.95" width="6.3" height="27.3" fill="#df5944" stroke="#53110c" stroke-width="1.7"/>
<rect x="1128.38" y="726.15" width="6.3" height="1.5" fill="#6fa886" stroke="#174c2f" stroke-width="1.7"/>
<rect x="1138.12" y="691.15" width="6.3" height="31.5" fill="#6fa886" stroke="#174c2f" stroke-width="1.7"/>
<rect x="1147.86" y="674.15" width="6.3" height="14.1" fill="#6fa886" stroke="#174c2f" stroke-width="1.7"/>
<rect x="1157.61" y="674.15" width="6.3" height="7.2" fill="#df5944" stroke="#53110c" stroke-width="1.7"/>
<rect x="1167.35" y="683.05" width="6.3" height="41.3" fill="#df5944" stroke="#53110c" stroke-width="1.7"/>
<rect x="1177.09" y="724.15" width="6.3" height="1.5" fill="#6fa886" stroke="#174c2f" stroke-width="1.7"/>
<rect x="1186.84" y="723.95" width="6.3" height="36.5" fill="#df5944" stroke="#53110c" stroke-width="1.7"/>
<rect x="1196.58" y="761.25" width="6.3" height="16.4" fill="#df5944" stroke="#53110c" stroke-width="1.7"/>
<rect x="1206.32" y="758.25" width="6.3" height="18.2" fill="#6fa886" stroke="#174c2f" stroke-width="1.7"/>
<rect x="1216.07" y="757.25" width="6.3" height="102.2" fill="#df5944" stroke="#53110c" stroke-width="1.7"/>
<rect x="1225.81" y="860.55" width="6.3" height="1.5" fill="#df5944" stroke="#53110c" stroke-width="1.7"/>
<rect x="1235.55" y="835.35" width="6.3" height="26.1" fill="#6fa886" stroke="#174c2f" stroke-width="1.7"/>
<rect x="1245.29" y="829.15" width="6.3" height="5.1" fill="#6fa886" stroke="#174c2f" stroke-width="1.7"/>
<rect x="1255.04" y="829.15" width="6.3" height="54.3" fill="#df5944" stroke="#53110c" stroke-width="1.7"/>
<rect x="1264.78" y="879.35" width="6.3" height="5.1" fill="#6fa886" stroke="#174c2f" stroke-width="1.7"/>
<rect x="1274.52" y="831.05" width="6.3" height="46.6" fill="#6fa886" stroke="#174c2f" stroke-width="1.7"/>
<rect x="1284.27" y="802.15" width="6.3" height="27.2" fill="#6fa886" stroke="#174c2f" stroke-width="1.7"/>
<rect x="1294.01" y="780.15" width="6.3" height="20.3" fill="#6fa886" stroke="#174c2f" stroke-width="1.7"/>
<rect x="1303.75" y="749.05" width="6.3" height="28.4" fill="#6fa886" stroke="#174c2f" stroke-width="1.7"/>
<rect x="1313.5" y="749.05" width="6.3" height="44.6" fill="#df5944" stroke="#53110c" stroke-width="1.7"/>
<rect x="1323.24" y="782.05" width="6.3" height="11.6" fill="#6fa886" stroke="#174c2f" stroke-width="1.7"/>
<rect x="1332.98" y="762.15" width="6.3" height="17.2" fill="#6fa886" stroke="#174c2f" stroke-width="1.7"/>
<rect x="1342.72" y="737.35" width="6.3" height="23.1" fill="#6fa886" stroke="#174c2f" stroke-width="1.7"/>
<rect x="1352.47" y="737.35" width="6.3" height="31.3" fill="#df5944" stroke="#53110c" stroke-width="1.7"/>
<rect x="1362.21" y="737.35" width="6.3" height="30.9" fill="#6fa886" stroke="#174c2f" stroke-width="1.7"/>
<rect x="1371.95" y="737.1" width="6.3" height="1.5" fill="#df5944" stroke="#53110c" stroke-width="1.7"/>
<rect x="1381.7" y="740.65" width="6.3" height="50.5" fill="#df5944" stroke="#53110c" stroke-width="1.7"/>
<rect x="1391.44" y="784.65" width="6.3" height="6.5" fill="#6fa886" stroke="#174c2f" stroke-width="1.7"/>
<rect x="1401.18" y="784.65" width="6.3" height="7.6" fill="#df5944" stroke="#53110c" stroke-width="1.7"/>
<rect x="1410.93" y="786.55" width="6.3" height="4.6" fill="#6fa886" stroke="#174c2f" stroke-width="1.7"/>
<rect x="1420.67" y="786.55" width="6.3" height="27.8" fill="#df5944" stroke="#53110c" stroke-width="1.7"/>
<rect x="1430.41" y="817.45" width="6.3" height="25" fill="#df5944" stroke="#53110c" stroke-width="1.7"/>
<rect x="1440.15" y="828.55" width="6.3" height="13.9" fill="#6fa886" stroke="#174c2f" stroke-width="1.7"/>
<rect x="1449.9" y="828.55" width="6.3" height="21.7" fill="#df5944" stroke="#53110c" stroke-width="1.7"/>
<rect x="1459.64" y="850.65" width="6.3" height="11.4" fill="#df5944" stroke="#53110c" stroke-width="1.7"/>
<rect x="1469.38" y="857.45" width="6.3" height="4.6" fill="#6fa886" stroke="#174c2f" stroke-width="1.7"/>
<rect x="1479.13" y="856.25" width="6.3" height="1.5" fill="#df5944" stroke="#53110c" stroke-width="1.7"/>
<rect x="1488.87" y="861.35" width="6.3" height="20.2" fill="#df5944" stroke="#53110c" stroke-width="1.7"/>
<rect x="1498.61" y="883.25" width="6.3" height="8" fill="#df5944" stroke="#53110c" stroke-width="1.7"/>
<rect x="1508.36" y="827.55" width="6.3" height="63.7" fill="#6fa886" stroke="#174c2f" stroke-width="1.7"/>
<rect x="1518.1" y="819.35" width="6.3" height="6.5" fill="#6fa886" stroke="#174c2f" stroke-width="1.7"/>
<rect x="1527.84" y="790.45" width="6.3" height="26" fill="#6fa886" stroke="#174c2f" stroke-width="1.7"/>
<rect x="1537.59" y="773.25" width="6.3" height="13.9" fill="#6fa886" stroke="#174c2f" stroke-width="1.7"/>
<rect x="1547.33" y="770.5" width="6.3" height="1.5" fill="#6fa886" stroke="#174c2f" stroke-width="1.7"/>
<rect x="1557.07" y="762.55" width="6.3" height="6.7" fill="#6fa886" stroke="#174c2f" stroke-width="1.7"/>
<rect x="1566.81" y="742.25" width="6.3" height="18.6" fill="#6fa886" stroke="#174c2f" stroke-width="1.7"/>
<rect x="1576.56" y="741.6" width="6.3" height="1.5" fill="#df5944" stroke="#53110c" stroke-width="1.7"/>
<rect x="1586.3" y="722.15" width="6.3" height="19.3" fill="#6fa886" stroke="#174c2f" stroke-width="1.7"/>
<rect x="1596.04" y="702.05" width="6.3" height="17.4" fill="#6fa886" stroke="#174c2f" stroke-width="1.7"/>
<rect x="1605.79" y="687.35" width="6.3" height="13" fill="#6fa886" stroke="#174c2f" stroke-width="1.7"/>
<rect x="1615.53" y="680.55" width="6.3" height="2.8" fill="#6fa886" stroke="#174c2f" stroke-width="1.7"/>
<rect x="1625.27" y="668.45" width="6.3" height="10" fill="#6fa886" stroke="#174c2f" stroke-width="1.7"/>
<rect x="1635.01" y="669.25" width="6.3" height="20.3" fill="#df5944" stroke="#53110c" stroke-width="1.7"/>
<rect x="1644.76" y="642.05" width="6.3" height="47.5" fill="#6fa886" stroke="#174c2f" stroke-width="1.7"/>
<rect x="1654.5" y="619.05" width="6.3" height="21.3" fill="#6fa886" stroke="#174c2f" stroke-width="1.7"/>
<rect x="1664.24" y="606.35" width="6.3" height="11" fill="#6fa886" stroke="#174c2f" stroke-width="1.7"/>
<rect x="1673.99" y="553.15" width="6.3" height="51.5" fill="#6fa886" stroke="#174c2f" stroke-width="1.7"/>
<rect x="1683.73" y="553.15" width="6.3" height="27.1" fill="#df5944" stroke="#53110c" stroke-width="1.7"/>
<rect x="1693.47" y="552.25" width="6.3" height="27.4" fill="#6fa886" stroke="#174c2f" stroke-width="1.7"/>
<rect x="1703.22" y="552.25" width="6.3" height="3.2" fill="#df5944" stroke="#53110c" stroke-width="1.7"/>
<rect x="1712.96" y="553.15" width="6.3" height="2.3" fill="#6fa886" stroke="#174c2f" stroke-width="1.7"/>
<rect x="1722.7" y="554.15" width="6.3" height="20.2" fill="#df5944" stroke="#53110c" stroke-width="1.7"/>
<rect x="1732.44" y="523.35" width="6.3" height="50.4" fill="#6fa886" stroke="#174c2f" stroke-width="1.7"/>
<rect x="1742.19" y="523.35" width="6.3" height="9" fill="#df5944" stroke="#53110c" stroke-width="1.7"/>
<rect x="1751.93" y="526.25" width="6.3" height="6.1" fill="#6fa886" stroke="#174c2f" stroke-width="1.7"/>
<rect x="1761.67" y="526.25" width="6.3" height="28.2" fill="#df5944" stroke="#53110c" stroke-width="1.7"/>
<rect x="1771.42" y="556.55" width="6.3" height="23.7" fill="#df5944" stroke="#53110c" stroke-width="1.7"/>
<rect x="1781.16" y="580.5" width="6.3" height="1.5" fill="#6fa886" stroke="#174c2f" stroke-width="1.7"/>
<rect x="1790.9" y="549.25" width="6.3" height="30" fill="#6fa886" stroke="#174c2f" stroke-width="1.7"/>
<rect x="1800.65" y="530.15" width="6.3" height="16.9" fill="#6fa886" stroke="#174c2f" stroke-width="1.7"/>
<rect x="1810.39" y="531.15" width="6.3" height="8" fill="#df5944" stroke="#53110c" stroke-width="1.7"/>
<rect x="1820.13" y="537.8" width="6.3" height="1.5" fill="#6fa886" stroke="#174c2f" stroke-width="1.7"/>
<rect x="1829.88" y="525.45" width="6.3" height="10.7" fill="#6fa886" stroke="#174c2f" stroke-width="1.7"/>
<rect x="1839.62" y="523.45" width="6.3" height="26" fill="#df5944" stroke="#53110c" stroke-width="1.7"/>
<rect x="1849.36" y="540.15" width="6.3" height="9.2" fill="#6fa886" stroke="#174c2f" stroke-width="1.7"/>
<rect x="1859.1" y="541.35" width="6.3" height="23.1" fill="#df5944" stroke="#53110c" stroke-width="1.7"/>
<rect x="1868.85" y="532.35" width="6.3" height="32.1" fill="#6fa886" stroke="#174c2f" stroke-width="1.7"/>
<rect x="1878.59" y="533.55" width="6.3" height="2.9" fill="#df5944" stroke="#53110c" stroke-width="1.7"/>
<rect x="1888.33" y="537.45" width="6.3" height="2.2" fill="#df5944" stroke="#53110c" stroke-width="1.7"/>
<rect x="1898.08" y="539.35" width="6.3" height="1.5" fill="#6fa886" stroke="#174c2f" stroke-width="1.7"/>
<rect x="1907.82" y="504.25" width="6.3" height="35.4" fill="#6fa886" stroke="#174c2f" stroke-width="1.7"/>
<rect x="1917.56" y="439.15" width="6.3" height="64.7" fill="#6fa886" stroke="#174c2f" stroke-width="1.7"/>
<rect x="1927.31" y="440.15" width="6.3" height="4.5" fill="#df5944" stroke="#53110c" stroke-width="1.7"/>
<rect x="1937.05" y="422.15" width="6.3" height="21.8" fill="#6fa886" stroke="#174c2f" stroke-width="1.7"/>
<rect x="1946.79" y="423.05" width="6.3" height="5.6" fill="#df5944" stroke="#53110c" stroke-width="1.7"/>
<rect x="1956.53" y="420.05" width="6.3" height="8.7" fill="#6fa886" stroke="#174c2f" stroke-width="1.7"/>
<rect x="1966.28" y="420.15" width="6.3" height="2.4" fill="#df5944" stroke="#53110c" stroke-width="1.7"/>
<rect x="1976.02" y="424.15" width="6.3" height="79.7" fill="#df5944" stroke="#53110c" stroke-width="1.7"/>
<rect x="1985.76" y="493.85" width="6.3" height="8.7" fill="#6fa886" stroke="#174c2f" stroke-width="1.7"/>
<rect x="1995.51" y="493.85" width="6.3" height="10.6" fill="#df5944" stroke="#53110c" stroke-width="1.7"/>
<rect x="2005.25" y="506.15" width="6.3" height="36.8" fill="#df5944" stroke="#53110c" stroke-width="1.7"/>
<rect x="2014.99" y="534.25" width="6.3" height="9.3" fill="#6fa886" stroke="#174c2f" stroke-width="1.7"/>
<rect x="2024.73" y="509.05" width="6.3" height="23.5" fill="#6fa886" stroke="#174c2f" stroke-width="1.7"/>
<rect x="2034.48" y="510.05" width="6.3" height="19.8" fill="#df5944" stroke="#53110c" stroke-width="1.7"/>
<rect x="2044.22" y="504.25" width="6.3" height="24.4" fill="#6fa886" stroke="#174c2f" stroke-width="1.7"/>
<rect x="2053.96" y="473.35" width="6.3" height="27.6" fill="#6fa886" stroke="#174c2f" stroke-width="1.7"/>
<rect x="2063.71" y="473.45" width="6.3" height="5.9" fill="#df5944" stroke="#53110c" stroke-width="1.7"/>
<rect x="2073.45" y="481.35" width="6.3" height="27.3" fill="#df5944" stroke="#53110c" stroke-width="1.7"/>
<rect x="2083.19" y="504.45" width="6.3" height="4.2" fill="#6fa886" stroke="#174c2f" stroke-width="1.7"/>
<rect x="2092.94" y="504.45" width="6.3" height="16.7" fill="#df5944" stroke="#53110c" stroke-width="1.7"/>
<rect x="2102.68" y="522.45" width="6.3" height="65.1" fill="#df5944" stroke="#53110c" stroke-width="1.7"/>
<rect x="2112.42" y="590.35" width="6.3" height="40.7" fill="#df5944" stroke="#53110c" stroke-width="1.7"/>
<rect x="2122.16" y="569.25" width="6.3" height="61.8" fill="#6fa886" stroke="#174c2f" stroke-width="1.7"/>
<rect x="2131.91" y="555.25" width="6.3" height="13.3" fill="#6fa886" stroke="#174c2f" stroke-width="1.7"/>
<rect x="2141.65" y="554.65" width="6.3" height="42.6" fill="#df5944" stroke="#53110c" stroke-width="1.7"/>
<rect x="2151.39" y="597.95" width="6.3" height="1.5" fill="#df5944" stroke="#53110c" stroke-width="1.7"/>
<rect x="2161.14" y="572.25" width="6.3" height="25" fill="#6fa886" stroke="#174c2f" stroke-width="1.7"/>
<rect x="2170.88" y="573.15" width="6.3" height="25.3" fill="#df5944" stroke="#53110c" stroke-width="1.7"/>
<rect x="2180.62" y="600.15" width="6.3" height="22.1" fill="#df5944" stroke="#53110c" stroke-width="1.7"/>
<rect x="2190.37" y="615.15" width="6.3" height="7.1" fill="#6fa886" stroke="#174c2f" stroke-width="1.7"/>
<rect x="2200.11" y="584.55" width="6.3" height="28.9" fill="#6fa886" stroke="#174c2f" stroke-width="1.7"/>
<rect x="2209.85" y="526.35" width="6.3" height="55.9" fill="#6fa886" stroke="#174c2f" stroke-width="1.7"/>
<rect x="2219.59" y="511.05" width="6.3" height="13.6" fill="#6fa886" stroke="#174c2f" stroke-width="1.7"/>
<rect x="2229.34" y="507.15" width="6.3" height="3" fill="#6fa886" stroke="#174c2f" stroke-width="1.7"/>
<rect x="2239.08" y="507.15" width="6.3" height="4.2" fill="#df5944" stroke="#53110c" stroke-width="1.7"/>
<rect x="2248.82" y="490.15" width="6.3" height="20.4" fill="#6fa886" stroke="#174c2f" stroke-width="1.7"/>
<rect x="2258.57" y="480.45" width="6.3" height="8" fill="#6fa886" stroke="#174c2f" stroke-width="1.7"/>
<rect x="2268.31" y="477.55" width="6.3" height="1.5" fill="#6fa886" stroke="#174c2f" stroke-width="1.7"/>
<rect x="2278.05" y="473.65" width="6.3" height="2.2" fill="#6fa886" stroke="#174c2f" stroke-width="1.7"/>
</g>
<text x="36" y="283.9" font-size="23.5" fill="#4a4a4c" stroke="#4a4a4c" stroke-width="0.3" textLength="102" lengthAdjust="spacingAndGlyphs">Ethereum</text>
<text x="167" y="283.9" font-size="23.5" fill="#4a4a4c" stroke="#4a4a4c" stroke-width="0.3" textLength="43.3" lengthAdjust="spacingAndGlyphs">U.S.</text>
<text x="219.4" y="283.9" font-size="23.5" fill="#4a4a4c" stroke="#4a4a4c" stroke-width="0.3" textLength="67.4" lengthAdjust="spacingAndGlyphs">Dollar,</text>
<text x="295.9" y="283.9" font-size="23.5" fill="#4a4a4c" stroke="#4a4a4c" stroke-width="0.3" textLength="32.9" lengthAdjust="spacingAndGlyphs">1D,</text>
<text x="337.9" y="283.9" font-size="23.5" fill="#4a4a4c" stroke="#4a4a4c" stroke-width="0.3" textLength="102" lengthAdjust="spacingAndGlyphs">BITSTAMP</text>
<text x="154.5" y="283.9" font-size="23.5" fill="#4a4a4c" stroke="#4a4a4c" stroke-width="0.3" text-anchor="middle">/</text>
<text x="455.9" y="283.9" font-size="23.5" fill="#4a4a4c" stroke="#4a4a4c" stroke-width="0.3" textLength="98.1" lengthAdjust="spacingAndGlyphs">O<tspan fill="#1e5a35" stroke="#1e5a35">3588.77</tspan></text>
<text x="571.2" y="283.9" font-size="23.5" fill="#4a4a4c" stroke="#4a4a4c" stroke-width="0.3" textLength="97.6" lengthAdjust="spacingAndGlyphs">H<tspan fill="#1e5a35" stroke="#1e5a35">3674.93</tspan></text>
<text x="685.5" y="283.9" font-size="23.5" fill="#4a4a4c" stroke="#4a4a4c" stroke-width="0.3" textLength="94.8" lengthAdjust="spacingAndGlyphs">L<tspan fill="#1e5a35" stroke="#1e5a35">3548.97</tspan></text>
<text x="796.1" y="283.9" font-size="23.5" fill="#4a4a4c" stroke="#4a4a4c" stroke-width="0.3" textLength="97.4" lengthAdjust="spacingAndGlyphs">C<tspan fill="#1e5a35" stroke="#1e5a35">3613.44</tspan></text>
<text x="909.6" y="283.9" font-size="23.5" fill="#1e5a35" stroke="#1e5a35" stroke-width="0.3" textLength="168.4" lengthAdjust="spacingAndGlyphs">+25.53 (+0.71%)</text>
<text x="36.8" y="317.9" font-size="23.5" fill="#4a4a4c" stroke="#4a4a4c" stroke-width="0.3" textLength="31" lengthAdjust="spacingAndGlyphs">Vol</text>
<text x="83.5" y="317.9" font-size="23.5" fill="#26a69a" stroke="#26a69a" stroke-width="0.3" textLength="72.3" lengthAdjust="spacingAndGlyphs">8.582K</text>
<text x="36.8" y="352.1" font-size="23.5" fill="#4a4a4c" stroke="#4a4a4c" stroke-width="0.3" textLength="191.4" lengthAdjust="spacingAndGlyphs">EMA (20, close, 0)</text>
<text x="244.7" y="352.1" font-size="23.5" fill="#00796b" stroke="#00796b" stroke-width="0.3" textLength="82.4" lengthAdjust="spacingAndGlyphs">3323.07</text>
<text x="36.8" y="386.2" font-size="23.5" fill="#4a4a4c" stroke="#4a4a4c" stroke-width="0.3" textLength="204" lengthAdjust="spacingAndGlyphs">EMA (200, close, 0)</text>
<text x="256.9" y="386.2" font-size="23.5" fill="#ff9800" stroke="#ff9800" stroke-width="0.3" textLength="83.2" lengthAdjust="spacingAndGlyphs">2643.99</text>
<text x="36.8" y="419.8" font-size="23.5" fill="#4a4a4c" stroke="#4a4a4c" stroke-width="0.3" textLength="191.4" lengthAdjust="spacingAndGlyphs">EMA (50, close, 0)</text>
<text x="244.7" y="419.8" font-size="23.5" fill="#880e4f" stroke="#880e4f" stroke-width="0.3" textLength="82.4" lengthAdjust="spacingAndGlyphs">3224.99</text>
<rect x="20" y="243" width="2668" height="2" fill="#46474a"/>
<rect x="20" y="1220" width="2668" height="2" fill="#46474a"/>
<rect x="2564" y="54" width="2" height="1221" fill="#46474a"/>
<text x="2583" y="100.96" font-size="23.8" fill="#4d4e51" stroke="#4d4e51" stroke-width="0.2" textLength="55" lengthAdjust="spacingAndGlyphs">80.00</text>
<text x="2583" y="188.96" font-size="23.8" fill="#4d4e51" stroke="#4d4e51" stroke-width="0.2" textLength="55" lengthAdjust="spacingAndGlyphs">40.00</text>
<clipPath id="cpa"><rect x="2566" y="245" width="122" height="975"/></clipPath>
<g clip-path="url(#cpa)">
<text x="2583" y="258.15" font-size="23.8" fill="#4d4e51" stroke="#4d4e51" stroke-width="0.2" textLength="78.4" lengthAdjust="spacingAndGlyphs">5250.00</text>
<text x="2583" y="317.78" font-size="23.8" fill="#4d4e51" stroke="#4d4e51" stroke-width="0.2" textLength="78.4" lengthAdjust="spacingAndGlyphs">4750.00</text>
<text x="2583" y="384.05" font-size="23.8" fill="#4d4e51" stroke="#4d4e51" stroke-width="0.2" textLength="78.4" lengthAdjust="spacingAndGlyphs">4250.00</text>
<text x="2583" y="442.94" font-size="23.8" fill="#4d4e51" stroke="#4d4e51" stroke-width="0.2" textLength="78.4" lengthAdjust="spacingAndGlyphs">3850.00</text>
<text x="2583" y="581.72" font-size="23.8" fill="#4d4e51" stroke="#4d4e51" stroke-width="0.2" textLength="78.4" lengthAdjust="spacingAndGlyphs">3050.00</text>
<text x="2583" y="665.48" font-size="23.8" fill="#4d4e51" stroke="#4d4e51" stroke-width="0.2" textLength="78.4" lengthAdjust="spacingAndGlyphs">2650.00</text>
<text x="2583" y="737.06" font-size="23.8" fill="#4d4e51" stroke="#4d4e51" stroke-width="0.2" textLength="78.4" lengthAdjust="spacingAndGlyphs">2350.00</text>
<text x="2583" y="818.43" font-size="23.8" fill="#4d4e51" stroke="#4d4e51" stroke-width="0.2" textLength="78.4" lengthAdjust="spacingAndGlyphs">2050.00</text>
<text x="2583" y="879.59" font-size="23.8" fill="#4d4e51" stroke="#4d4e51" stroke-width="0.2" textLength="78.4" lengthAdjust="spacingAndGlyphs">1850.00</text>
<text x="2583" y="947.76" font-size="23.8" fill="#4d4e51" stroke="#4d4e51" stroke-width="0.2" textLength="78.4" lengthAdjust="spacingAndGlyphs">1650.00</text>
<text x="2583" y="1008.53" font-size="23.8" fill="#4d4e51" stroke="#4d4e51" stroke-width="0.2" textLength="78.4" lengthAdjust="spacingAndGlyphs">1490.00</text>
<text x="2583" y="1076.21" font-size="23.8" fill="#4d4e51" stroke="#4d4e51" stroke-width="0.2" textLength="78.4" lengthAdjust="spacingAndGlyphs">1330.00</text>
<text x="2583" y="1132.55" font-size="23.8" fill="#4d4e51" stroke="#4d4e51" stroke-width="0.2" textLength="78.4" lengthAdjust="spacingAndGlyphs">1210.00</text>
<text x="2583" y="1194.77" font-size="23.8" fill="#4d4e51" stroke="#4d4e51" stroke-width="0.2" textLength="78.4" lengthAdjust="spacingAndGlyphs">1090.00</text>
</g>
<rect x="2599.2" y="258.4" width="53.4" height="33.2" rx="8" fill="#f2dfcf" stroke="#ccd2df" stroke-width="1.6"/>
<text x="2607.9" y="281.8" font-size="23" fill="#434447" stroke="#434447" stroke-width="0.4" textLength="36.4" lengthAdjust="spacingAndGlyphs">USD</text>
<path d="M2468,457 H2562 V488.8 H2468 Q2464,488.8 2464,484.8 V461 Q2464,457 2468,457 Z" fill="#6aa584"/>
<text x="2474.9" y="480.6" font-size="22.5" fill="#ffffff" stroke="#ffffff" stroke-width="0.35" textLength="75.2" lengthAdjust="spacingAndGlyphs">ETHUSD</text>
<path d="M2564,457 H2676 Q2680,457 2680,461 V510.8 Q2680,514.8 2676,514.8 H2564 Z" fill="#6aa584"/>
<text x="2585.5" y="480.6" font-size="22.5" fill="#ffffff" stroke="#ffffff" stroke-width="0.35" textLength="75" lengthAdjust="spacingAndGlyphs">3613.44</text>
<text x="2584.5" y="506.9" font-size="22.5" fill="#e2efe6" textLength="83.5" lengthAdjust="spacingAndGlyphs">07:53:06</text>
<text x="128" y="1254.8" font-size="21.8" fill="#505254" text-anchor="middle" font-weight="bold" transform="translate(128,0) scale(0.9,1) translate(-128,0)">Mar</text>
<text x="430" y="1254.8" font-size="21.8" fill="#505254" text-anchor="middle" font-weight="bold" transform="translate(430,0) scale(0.9,1) translate(-430,0)">Apr</text>
<text x="723" y="1254.8" font-size="21.8" fill="#505254" text-anchor="middle" font-weight="bold" transform="translate(723,0) scale(0.9,1) translate(-723,0)">May</text>
<text x="1025" y="1254.8" font-size="21.8" fill="#505254" text-anchor="middle" font-weight="bold" transform="translate(1025,0) scale(0.9,1) translate(-1025,0)">Jun</text>
<text x="1317" y="1254.8" font-size="21.8" fill="#505254" text-anchor="middle" font-weight="bold" transform="translate(1317,0) scale(0.9,1) translate(-1317,0)">Jul</text>
<text x="1619" y="1254.8" font-size="21.8" fill="#505254" text-anchor="middle" font-weight="bold" transform="translate(1619,0) scale(0.9,1) translate(-1619,0)">Aug</text>
<text x="1921" y="1254.8" font-size="21.8" fill="#505254" text-anchor="middle" font-weight="bold" transform="translate(1921,0) scale(0.9,1) translate(-1921,0)">Sep</text>
<text x="2213" y="1254.8" font-size="21.8" fill="#505254" text-anchor="middle" font-weight="bold" transform="translate(2213,0) scale(0.9,1) translate(-2213,0)">Oct</text>
<text x="2515" y="1254.8" font-size="21.8" fill="#505254" text-anchor="middle" font-weight="bold" transform="translate(2515,0) scale(0.9,1) translate(-2515,0)">Nov</text>
<path d="M20,1300.1 H35.3 V1319.5 H27.8 V1308 H20 Z" fill="#131722"/>
<circle cx="42.3" cy="1304.4" r="4.5" fill="#131722"/>
<path d="M50.7,1300.1 H59.1 L50.9,1319.5 H42.3 Z" fill="#131722"/>
<text x="66.1" y="1319.9" font-size="27.5" fill="#131722" stroke="#131722" stroke-width="0.3" textLength="140.7" lengthAdjust="spacingAndGlyphs">TradingView</text>
</svg>
</body></html>
